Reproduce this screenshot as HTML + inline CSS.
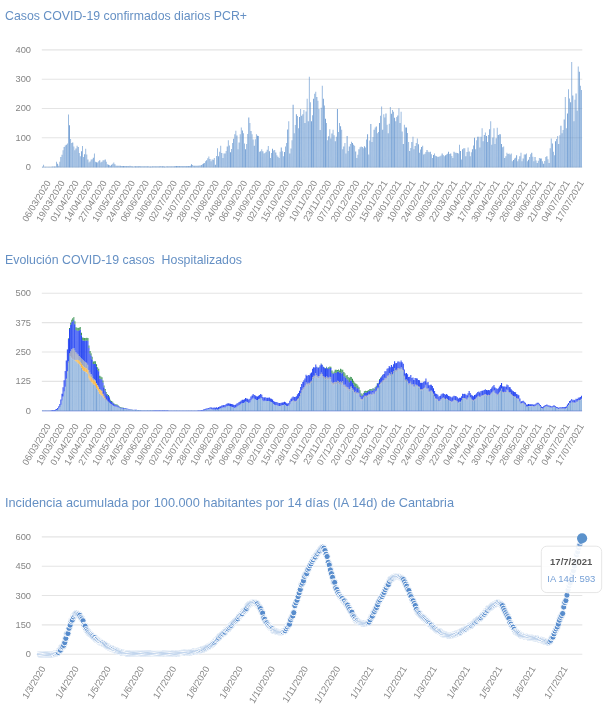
<!DOCTYPE html>
<html lang="es"><head><meta charset="utf-8"><title>COVID-19 Cantabria</title>
<style>html,body{margin:0;padding:0;background:#fff;}body{width:610px;height:720px;overflow:hidden;font-family:"Liberation Sans",sans-serif;}svg{display:block;filter:blur(0.45px);}</style></head>
<body>
<svg width="610" height="720" viewBox="0 0 610 720" font-family="Liberation Sans, sans-serif">
<rect width="610" height="720" fill="#fff"/>
<text x="5" y="19.8" font-size="13.6" fill="#6590c4" textLength="242" lengthAdjust="spacingAndGlyphs" xml:space="preserve">Casos COVID-19 confirmados diarios PCR+</text>
<line x1="41.8" x2="582.3" y1="167" y2="167" stroke="#e4e4e4" stroke-width="1.1"/>
<text x="31" y="170" text-anchor="end" font-size="9.3" fill="#858585">0</text>
<line x1="41.8" x2="582.3" y1="137.73" y2="137.73" stroke="#e4e4e4" stroke-width="1.1"/>
<text x="31" y="140.73" text-anchor="end" font-size="9.3" fill="#858585">100</text>
<line x1="41.8" x2="582.3" y1="108.46" y2="108.46" stroke="#e4e4e4" stroke-width="1.1"/>
<text x="31" y="111.46" text-anchor="end" font-size="9.3" fill="#858585">200</text>
<line x1="41.8" x2="582.3" y1="79.19" y2="79.19" stroke="#e4e4e4" stroke-width="1.1"/>
<text x="31" y="82.19" text-anchor="end" font-size="9.3" fill="#858585">300</text>
<line x1="41.8" x2="582.3" y1="49.92" y2="49.92" stroke="#e4e4e4" stroke-width="1.1"/>
<text x="31" y="52.92" text-anchor="end" font-size="9.3" fill="#858585">400</text>
<path d="M43.19 167.5v-2.84h0.86v2.84zM44.27 167.5v-0.79h0.86v0.79zM46.43 167.5v-0.79h0.86v0.79zM47.51 167.5v-0.79h0.86v0.79zM49.67 167.5v-0.79h0.86v0.79zM50.75 167.5v-0.85h0.86v0.85zM52.91 167.5v-0.97h0.86v0.97zM55.07 167.5v-1.09h0.86v1.09zM56.15 167.5v-5.77h0.86v5.77zM58.31 167.5v-1.67h0.86v1.67zM59.39 167.5v-5.83h0.86v5.83zM61.55 167.5v-12.85h0.86v12.85zM62.63 167.5v-17.18h0.86v17.18zM64.79 167.5v-21.94h0.86v21.94zM66.95 167.5v-23.92h0.86v23.92zM68.03 167.5v-52.89h0.86v52.89zM70.19 167.5v-28.6h0.86v28.6zM71.27 167.5v-24.55h0.86v24.55zM73.43 167.5v-21.06h0.86v21.06zM74.51 167.5v-17.18h0.86v17.18zM76.67 167.5v-21.87h0.86v21.87zM78.83 167.5v-14.49h0.86v14.49zM79.91 167.5v-11.33h0.86v11.33zM82.07 167.5v-21.57h0.86v21.57zM83.15 167.5v-10.45h0.86v10.45zM85.31 167.5v-18.65h0.86v18.65zM86.39 167.5v-13.1h0.86v13.1zM88.55 167.5v-4.89h0.86v4.89zM90.71 167.5v-8.11h0.86v8.11zM91.79 167.5v-8.28h0.86v8.28zM93.95 167.5v-13.96h0.86v13.96zM95.03 167.5v-5.77h0.86v5.77zM97.19 167.5v-4.89h0.86v4.89zM98.27 167.5v-6.33h0.86v6.33zM100.43 167.5v-4.89h0.86v4.89zM102.59 167.5v-7.23h0.86v7.23zM103.67 167.5v-7.24h0.86v7.24zM105.83 167.5v-5.69h0.86v5.69zM106.91 167.5v-3.13h0.86v3.13zM109.07 167.5v-2.16h0.86v2.16zM110.15 167.5v-1.67h0.86v1.67zM112.31 167.5v-3.82h0.86v3.82zM113.39 167.5v-4.89h0.86v4.89zM115.55 167.5v-1.67h0.86v1.67zM117.71 167.5v-1.67h0.86v1.67zM118.79 167.5v-1.67h0.86v1.67zM120.95 167.5v-1.6h0.86v1.6zM122.03 167.5v-1.52h0.86v1.52zM124.19 167.5v-1.38h0.86v1.38zM125.27 167.5v-1.44h0.86v1.44zM127.43 167.5v-1.55h0.86v1.55zM129.59 167.5v-1.67h0.86v1.67zM130.67 167.5v-1.48h0.86v1.48zM132.83 167.5v-1.09h0.86v1.09zM133.91 167.5v-1.13h0.86v1.13zM136.07 167.5v-1.23h0.86v1.23zM137.15 167.5v-1.28h0.86v1.28zM139.31 167.5v-1.38h0.86v1.38zM141.47 167.5v-1.32h0.86v1.32zM142.55 167.5v-1.29h0.86v1.29zM144.71 167.5v-1.23h0.86v1.23zM145.79 167.5v-1.2h0.86v1.2zM147.95 167.5v-1.14h0.86v1.14zM149.03 167.5v-1.11h0.86v1.11zM151.19 167.5v-1.12h0.86v1.12zM153.35 167.5v-1.18h0.86v1.18zM154.43 167.5v-1.22h0.86v1.22zM156.59 167.5v-1.28h0.86v1.28zM157.67 167.5v-1.31h0.86v1.31zM159.83 167.5v-1.38h0.86v1.38zM160.91 167.5v-1.3h0.86v1.3zM163.07 167.5v-1.16h0.86v1.16zM165.23 167.5v-1.11h0.86v1.11zM166.31 167.5v-1.14h0.86v1.14zM168.47 167.5v-1.2h0.86v1.2zM169.55 167.5v-1.23h0.86v1.23zM171.71 167.5v-1.29h0.86v1.29zM172.79 167.5v-1.32h0.86v1.32zM174.95 167.5v-1.38h0.86v1.38zM177.11 167.5v-1.38h0.86v1.38zM178.19 167.5v-1.38h0.86v1.38zM180.35 167.5v-1.38h0.86v1.38zM181.43 167.5v-1.38h0.86v1.38zM183.59 167.5v-1.38h0.86v1.38zM184.67 167.5v-1.38h0.86v1.38zM186.83 167.5v-1.5h0.86v1.5zM188.99 167.5v-1.61h0.86v1.61zM190.07 167.5v-1.67h0.86v1.67zM192.23 167.5v-2.4h0.86v2.4zM193.31 167.5v-1.67h0.86v1.67zM195.47 167.5v-1.77h0.86v1.77zM196.55 167.5v-1.82h0.86v1.82zM198.71 167.5v-1.91h0.86v1.91zM199.79 167.5v-1.96h0.86v1.96zM201.95 167.5v-3.28h0.86v3.28zM204.11 167.5v-4.6h0.86v4.6zM205.19 167.5v-6.3h0.86v6.3zM207.35 167.5v-9.17h0.86v9.17zM208.43 167.5v-11.04h0.86v11.04zM210.59 167.5v-6.35h0.86v6.35zM211.67 167.5v-7.95h0.86v7.95zM213.83 167.5v-9.57h0.86v9.57zM215.99 167.5v-11.61h0.86v11.61zM217.07 167.5v-19.23h0.86v19.23zM219.23 167.5v-15.83h0.86v15.83zM220.31 167.5v-21.87h0.86v21.87zM222.47 167.5v-9.57h0.86v9.57zM223.55 167.5v-13.96h0.86v13.96zM225.71 167.5v-16.6h0.86v16.6zM227.87 167.5v-27.14h0.86v27.14zM228.95 167.5v-22.1h0.86v22.1zM231.11 167.5v-18.51h0.86v18.51zM232.19 167.5v-24.5h0.86v24.5zM234.35 167.5v-33.18h0.86v33.18zM235.43 167.5v-36.79h0.86v36.79zM237.59 167.5v-18.35h0.86v18.35zM239.75 167.5v-33.28h0.86v33.28zM240.83 167.5v-40.01h0.86v40.01zM242.99 167.5v-34.16h0.86v34.16zM244.07 167.5v-23.97h0.86v23.97zM246.23 167.5v-23.62h0.86v23.62zM247.31 167.5v-33.55h0.86v33.55zM249.47 167.5v-44.41h0.86v44.41zM251.63 167.5v-33.28h0.86v33.28zM252.71 167.5v-28.01h0.86v28.01zM254.87 167.5v-28.18h0.86v28.18zM255.95 167.5v-33.28h0.86v33.28zM258.11 167.5v-31.53h0.86v31.53zM259.19 167.5v-15.72h0.86v15.72zM261.35 167.5v-18.35h0.86v18.35zM263.51 167.5v-13.96h0.86v13.96zM264.59 167.5v-14.58h0.86v14.58zM266.75 167.5v-17.81h0.86v17.81zM267.83 167.5v-21.57h0.86v21.57zM269.99 167.5v-9.57h0.86v9.57zM271.07 167.5v-14.46h0.86v14.46zM273.23 167.5v-17.08h0.86v17.08zM274.31 167.5v-17.48h0.86v17.48zM276.47 167.5v-12.21h0.86v12.21zM278.63 167.5v-9.57h0.86v9.57zM279.71 167.5v-15.67h0.86v15.67zM281.87 167.5v-16.2h0.86v16.2zM282.95 167.5v-11.33h0.86v11.33zM285.11 167.5v-20.99h0.86v20.99zM286.19 167.5v-24.5h0.86v24.5zM288.35 167.5v-46.16h0.86v46.16zM290.51 167.5v-18.97h0.86v18.97zM291.59 167.5v-27.14h0.86v27.14zM293.75 167.5v-34.16h0.86v34.16zM294.83 167.5v-42.61h0.86v42.61zM296.99 167.5v-51.43h0.86v51.43zM298.07 167.5v-39.14h0.86v39.14zM300.23 167.5v-58.45h0.86v58.45zM302.39 167.5v-53.19h0.86v53.19zM303.47 167.5v-57.58h0.86v57.58zM305.63 167.5v-55.88h0.86v55.88zM306.71 167.5v-68.7h0.86v68.7zM308.87 167.5v-90.65h0.86v90.65zM309.95 167.5v-65.19h0.86v65.19zM312.11 167.5v-52.14h0.86v52.14zM314.27 167.5v-73.67h0.86v73.67zM315.35 167.5v-75.72h0.86v75.72zM317.51 167.5v-66.86h0.86v66.86zM318.59 167.5v-58.45h0.86v58.45zM320.75 167.5v-59.81h0.86v59.81zM321.83 167.5v-81.87h0.86v81.87zM323.99 167.5v-62.1h0.86v62.1zM326.15 167.5v-44.41h0.86v44.41zM327.23 167.5v-27.14h0.86v27.14zM329.39 167.5v-38.26h0.86v38.26zM330.47 167.5v-28.89h0.86v28.89zM332.63 167.5v-37.67h0.86v37.67zM333.71 167.5v-32.19h0.86v32.19zM335.87 167.5v-30.65h0.86v30.65zM338.03 167.5v-35.62h0.86v35.62zM339.11 167.5v-44.41h0.86v44.41zM341.27 167.5v-37.67h0.86v37.67zM342.35 167.5v-18.35h0.86v18.35zM344.51 167.5v-24.5h0.86v24.5zM345.59 167.5v-13.96h0.86v13.96zM347.75 167.5v-16.6h0.86v16.6zM349.91 167.5v-23.62h0.86v23.62zM350.99 167.5v-25.71h0.86v25.71zM353.15 167.5v-22.85h0.86v22.85zM354.23 167.5v-21.87h0.86v21.87zM356.39 167.5v-9.57h0.86v9.57zM357.47 167.5v-12.76h0.86v12.76zM359.63 167.5v-20.18h0.86v20.18zM360.71 167.5v-20.99h0.86v20.99zM362.87 167.5v-19.23h0.86v19.23zM365.03 167.5v-20.11h0.86v20.11zM366.11 167.5v-27.95h0.86v27.95zM368.27 167.5v-13.09h0.86v13.09zM369.35 167.5v-26.95h0.86v26.95zM371.51 167.5v-25.38h0.86v25.38zM372.59 167.5v-30.58h0.86v30.58zM374.75 167.5v-40.07h0.86v40.07zM376.91 167.5v-34.16h0.86v34.16zM377.99 167.5v-35.56h0.86v35.56zM380.15 167.5v-51.86h0.86v51.86zM381.23 167.5v-61.09h0.86v61.09zM383.39 167.5v-53.19h0.86v53.19zM384.47 167.5v-49.92h0.86v49.92zM386.63 167.5v-42.65h0.86v42.65zM388.79 167.5v-43.64h0.86v43.64zM389.87 167.5v-60.5h0.86v60.5zM392.03 167.5v-57.58h0.86v57.58zM393.11 167.5v-55.66h0.86v55.66zM395.27 167.5v-46.31h0.86v46.31zM396.35 167.5v-50.55h0.86v50.55zM398.51 167.5v-59.33h0.86v59.33zM400.67 167.5v-55.82h0.86v55.82zM401.75 167.5v-35.92h0.86v35.92zM403.91 167.5v-42.65h0.86v42.65zM404.99 167.5v-40.12h0.86v40.12zM407.15 167.5v-34.53h0.86v34.53zM408.23 167.5v-25.38h0.86v25.38zM410.39 167.5v-19.5h0.86v19.5zM412.55 167.5v-30.65h0.86v30.65zM413.63 167.5v-18.35h0.86v18.35zM415.79 167.5v-24.5h0.86v24.5zM416.87 167.5v-28.89h0.86v28.89zM419.03 167.5v-14.84h0.86v14.84zM420.11 167.5v-17.98h0.86v17.98zM422.27 167.5v-21.87h0.86v21.87zM424.43 167.5v-13.85h0.86v13.85zM425.51 167.5v-15.62h0.86v15.62zM427.67 167.5v-15.72h0.86v15.72zM428.75 167.5v-15.18h0.86v15.18zM430.91 167.5v-13.37h0.86v13.37zM431.99 167.5v-9.57h0.86v9.57zM434.15 167.5v-13.96h0.86v13.96zM435.23 167.5v-11.76h0.86v11.76zM437.39 167.5v-10.59h0.86v10.59zM439.55 167.5v-11.33h0.86v11.33zM440.63 167.5v-11.94h0.86v11.94zM442.79 167.5v-12.49h0.86v12.49zM443.87 167.5v-11.33h0.86v11.33zM446.03 167.5v-13.09h0.86v13.09zM447.11 167.5v-13.67h0.86v13.67zM449.27 167.5v-13.42h0.86v13.42zM451.43 167.5v-11.49h0.86v11.49zM452.51 167.5v-9.57h0.86v9.57zM454.67 167.5v-14.79h0.86v14.79zM455.75 167.5v-14.84h0.86v14.84zM457.91 167.5v-13.96h0.86v13.96zM458.99 167.5v-22.75h0.86v22.75zM461.15 167.5v-8.11h0.86v8.11zM463.31 167.5v-19.24h0.86v19.24zM464.39 167.5v-19.23h0.86v19.23zM466.55 167.5v-15.61h0.86v15.61zM467.63 167.5v-20.11h0.86v20.11zM469.79 167.5v-11.33h0.86v11.33zM470.87 167.5v-15.15h0.86v15.15zM473.03 167.5v-21.94h0.86v21.94zM475.19 167.5v-18.35h0.86v18.35zM476.27 167.5v-27.14h0.86v27.14zM478.43 167.5v-30.65h0.86v30.65zM479.51 167.5v-20.11h0.86v20.11zM481.67 167.5v-39.14h0.86v39.14zM482.75 167.5v-26.26h0.86v26.26zM484.91 167.5v-35.04h0.86v35.04zM487.07 167.5v-25.38h0.86v25.38zM488.15 167.5v-32.4h0.86v32.4zM490.31 167.5v-46.16h0.86v46.16zM491.39 167.5v-22.75h0.86v22.75zM493.55 167.5v-39.14h0.86v39.14zM494.63 167.5v-23.62h0.86v23.62zM496.79 167.5v-39.72h0.86v39.72zM498.95 167.5v-33.3h0.86v33.3zM500.03 167.5v-33.28h0.86v33.28zM502.19 167.5v-20.37h0.86v20.37zM503.27 167.5v-20.99h0.86v20.99zM505.43 167.5v-11.18h0.86v11.18zM506.51 167.5v-14.84h0.86v14.84zM508.67 167.5v-13.96h0.86v13.96zM509.75 167.5v-13.01h0.86v13.01zM510.83 167.5v-13.96h0.86v13.96zM511.91 167.5v-6.35h0.86v6.35zM514.07 167.5v-8.99h0.86v8.99zM515.15 167.5v-9.68h0.86v9.68zM517.31 167.5v-6.35h0.86v6.35zM518.39 167.5v-8.32h0.86v8.32zM520.55 167.5v-14.84h0.86v14.84zM521.63 167.5v-6.35h0.86v6.35zM523.79 167.5v-13.09h0.86v13.09zM525.95 167.5v-13.96h0.86v13.96zM527.03 167.5v-6.35h0.86v6.35zM529.19 167.5v-10.45h0.86v10.45zM530.27 167.5v-13.34h0.86v13.34zM532.43 167.5v-10.7h0.86v10.7zM533.51 167.5v-6.35h0.86v6.35zM535.67 167.5v-7.01h0.86v7.01zM537.83 167.5v-6.73h0.86v6.73zM538.91 167.5v-9.57h0.86v9.57zM541.07 167.5v-8.99h0.86v8.99zM542.15 167.5v-6.15h0.86v6.15zM544.31 167.5v-6.57h0.86v6.57zM545.39 167.5v-10.45h0.86v10.45zM547.55 167.5v-8.36h0.86v8.36zM549.71 167.5v-19.23h0.86v19.23zM550.79 167.5v-28.89h0.86v28.89zM552.95 167.5v-15.72h0.86v15.72zM554.03 167.5v-12.21h0.86v12.21zM556.19 167.5v-28.43h0.86v28.43zM557.27 167.5v-31.53h0.86v31.53zM559.43 167.5v-32.28h0.86v32.28zM561.59 167.5v-34.16h0.86v34.16zM562.67 167.5v-37.61h0.86v37.61zM564.83 167.5v-70.46h0.86v70.46zM565.91 167.5v-39.14h0.86v39.14zM568.07 167.5v-78.36h0.86v78.36zM569.15 167.5v-69.04h0.86v69.04zM571.31 167.5v-105.58h0.86v105.58zM573.47 167.5v-46.16h0.86v46.16zM574.55 167.5v-67.82h0.86v67.82zM576.71 167.5v-56.7h0.86v56.7zM577.79 167.5v-100.9h0.86v100.9zM579.95 167.5v-81.87h0.86v81.87zM581.03 167.5v-77.48h0.86v77.48z" fill="#5b8fcc" fill-opacity="0.71"/>
<path d="M42.11 167.5v-0.73h0.86v0.73zM45.35 167.5v-0.79h0.86v0.79zM48.59 167.5v-0.79h0.86v0.79zM51.83 167.5v-0.91h0.86v0.91zM53.99 167.5v-1.03h0.86v1.03zM57.23 167.5v-3.72h0.86v3.72zM60.47 167.5v-10.45h0.86v10.45zM63.71 167.5v-20.4h0.86v20.4zM65.87 167.5v-22.75h0.86v22.75zM69.11 167.5v-42.36h0.86v42.36zM72.35 167.5v-25.09h0.86v25.09zM75.59 167.5v-18.88h0.86v18.88zM77.75 167.5v-20.4h0.86v20.4zM80.99 167.5v-16.31h0.86v16.31zM84.23 167.5v-13.24h0.86v13.24zM87.47 167.5v-8.11h0.86v8.11zM89.63 167.5v-5.98h0.86v5.98zM92.87 167.5v-9.87h0.86v9.87zM96.11 167.5v-5.22h0.86v5.22zM99.35 167.5v-7.23h0.86v7.23zM101.51 167.5v-5.63h0.86v5.63zM104.75 167.5v-8.11h0.86v8.11zM107.99 167.5v-2.65h0.86v2.65zM111.23 167.5v-2.74h0.86v2.74zM114.47 167.5v-3.28h0.86v3.28zM116.63 167.5v-1.67h0.86v1.67zM119.87 167.5v-1.67h0.86v1.67zM123.11 167.5v-1.45h0.86v1.45zM126.35 167.5v-1.5h0.86v1.5zM128.51 167.5v-1.61h0.86v1.61zM131.75 167.5v-1.28h0.86v1.28zM134.99 167.5v-1.18h0.86v1.18zM138.23 167.5v-1.33h0.86v1.33zM140.39 167.5v-1.35h0.86v1.35zM143.63 167.5v-1.26h0.86v1.26zM146.87 167.5v-1.17h0.86v1.17zM150.11 167.5v-1.09h0.86v1.09zM152.27 167.5v-1.15h0.86v1.15zM155.51 167.5v-1.25h0.86v1.25zM158.75 167.5v-1.35h0.86v1.35zM161.99 167.5v-1.23h0.86v1.23zM164.15 167.5v-1.09h0.86v1.09zM167.39 167.5v-1.17h0.86v1.17zM170.63 167.5v-1.26h0.86v1.26zM173.87 167.5v-1.35h0.86v1.35zM176.03 167.5v-1.38h0.86v1.38zM179.27 167.5v-1.38h0.86v1.38zM182.51 167.5v-1.38h0.86v1.38zM185.75 167.5v-1.44h0.86v1.44zM187.91 167.5v-1.55h0.86v1.55zM191.15 167.5v-3.13h0.86v3.13zM194.39 167.5v-1.72h0.86v1.72zM197.63 167.5v-1.87h0.86v1.87zM200.87 167.5v-2.62h0.86v2.62zM203.03 167.5v-3.94h0.86v3.94zM206.27 167.5v-7.23h0.86v7.23zM209.51 167.5v-8.46h0.86v8.46zM212.75 167.5v-7.77h0.86v7.77zM214.91 167.5v-2.84h0.86v2.84zM218.15 167.5v-11.33h0.86v11.33zM221.39 167.5v-14.59h0.86v14.59zM224.63 167.5v-14.12h0.86v14.12zM226.79 167.5v-20.92h0.86v20.92zM230.03 167.5v-15.14h0.86v15.14zM233.27 167.5v-28.73h0.86v28.73zM236.51 167.5v-32.11h0.86v32.11zM238.67 167.5v-24.98h0.86v24.98zM241.91 167.5v-37.04h0.86v37.04zM245.15 167.5v-18.35h0.86v18.35zM248.39 167.5v-49.97h0.86v49.97zM250.55 167.5v-36.43h0.86v36.43zM253.79 167.5v-21.87h0.86v21.87zM257.03 167.5v-31.67h0.86v31.67zM260.27 167.5v-16.32h0.86v16.32zM262.43 167.5v-16.24h0.86v16.24zM265.67 167.5v-15.72h0.86v15.72zM268.91 167.5v-16.22h0.86v16.22zM272.15 167.5v-18.65h0.86v18.65zM275.39 167.5v-14.89h0.86v14.89zM277.55 167.5v-10.83h0.86v10.83zM280.79 167.5v-20.11h0.86v20.11zM284.03 167.5v-15.41h0.86v15.41zM287.27 167.5v-37.99h0.86v37.99zM289.43 167.5v-13.96h0.86v13.96zM292.67 167.5v-62.85h0.86v62.85zM295.91 167.5v-53.19h0.86v53.19zM299.15 167.5v-50.55h0.86v50.55zM301.31 167.5v-51.8h0.86v51.8zM304.55 167.5v-44.41h0.86v44.41zM307.79 167.5v-46.16h0.86v46.16zM311.03 167.5v-46.16h0.86v46.16zM313.19 167.5v-68.7h0.86v68.7zM316.43 167.5v-70.46h0.86v70.46zM319.67 167.5v-37.38h0.86v37.38zM322.91 167.5v-68.7h0.86v68.7zM325.07 167.5v-48.8h0.86v48.8zM328.31 167.5v-31.3h0.86v31.3zM331.55 167.5v-34.11h0.86v34.11zM334.79 167.5v-26.26h0.86v26.26zM336.95 167.5v-58.45h0.86v58.45zM340.19 167.5v-41.22h0.86v41.22zM343.43 167.5v-21.05h0.86v21.05zM346.67 167.5v-31.53h0.86v31.53zM348.83 167.5v-21.11h0.86v21.11zM352.07 167.5v-24.5h0.86v24.5zM355.31 167.5v-16.02h0.86v16.02zM358.55 167.5v-18.35h0.86v18.35zM361.79 167.5v-20.43h0.86v20.43zM363.95 167.5v-21.18h0.86v21.18zM367.19 167.5v-33.28h0.86v33.28zM370.43 167.5v-43.53h0.86v43.53zM373.67 167.5v-37.67h0.86v37.67zM375.83 167.5v-40.89h0.86v40.89zM379.07 167.5v-44.41h0.86v44.41zM382.31 167.5v-37.67h0.86v37.67zM385.55 167.5v-54.06h0.86v54.06zM387.71 167.5v-34.16h0.86v34.16zM390.95 167.5v-53.81h0.86v53.81zM394.19 167.5v-49.67h0.86v49.67zM397.43 167.5v-51.92h0.86v51.92zM399.59 167.5v-44.41h0.86v44.41zM402.83 167.5v-23.62h0.86v23.62zM406.07 167.5v-40.01h0.86v40.01zM409.31 167.5v-16.6h0.86v16.6zM411.47 167.5v-25.48h0.86v25.48zM414.71 167.5v-21.41h0.86v21.41zM417.95 167.5v-23.13h0.86v23.13zM421.19 167.5v-20.58h0.86v20.58zM423.35 167.5v-13.09h0.86v13.09zM426.59 167.5v-17.48h0.86v17.48zM429.83 167.5v-15.72h0.86v15.72zM433.07 167.5v-12.58h0.86v12.58zM436.31 167.5v-11.33h0.86v11.33zM438.47 167.5v-10.7h0.86v10.7zM441.71 167.5v-13.96h0.86v13.96zM444.95 167.5v-12.28h0.86v12.28zM448.19 167.5v-15.72h0.86v15.72zM450.35 167.5v-13.96h0.86v13.96zM453.59 167.5v-15.72h0.86v15.72zM456.83 167.5v-14.43h0.86v14.43zM460.07 167.5v-16.5h0.86v16.5zM462.23 167.5v-18.35h0.86v18.35zM465.47 167.5v-11.33h0.86v11.33zM468.71 167.5v-15.89h0.86v15.89zM471.95 167.5v-18.35h0.86v18.35zM474.11 167.5v-29.77h0.86v29.77zM477.35 167.5v-30.65h0.86v30.65zM480.59 167.5v-30.8h0.86v30.8zM483.83 167.5v-32.38h0.86v32.38zM485.99 167.5v-31.5h0.86v31.5zM489.23 167.5v-38.14h0.86v38.14zM492.47 167.5v-30.08h0.86v30.08zM495.71 167.5v-29.14h0.86v29.14zM497.87 167.5v-32.4h0.86v32.4zM501.11 167.5v-23.62h0.86v23.62zM504.35 167.5v-9.57h0.86v9.57zM507.59 167.5v-13.54h0.86v13.54zM512.99 167.5v-7.39h0.86v7.39zM516.23 167.5v-12.21h0.86v12.21zM519.47 167.5v-11.18h0.86v11.18zM522.71 167.5v-8.97h0.86v8.97zM524.87 167.5v-13.08h0.86v13.08zM528.11 167.5v-7.65h0.86v7.65zM531.35 167.5v-14.84h0.86v14.84zM534.59 167.5v-10.45h0.86v10.45zM536.75 167.5v-4.6h0.86v4.6zM539.99 167.5v-8.95h0.86v8.95zM543.23 167.5v-3.72h0.86v3.72zM546.47 167.5v-11.33h0.86v11.33zM548.63 167.5v-4.6h0.86v4.6zM551.87 167.5v-24.02h0.86v24.02zM555.11 167.5v-26.26h0.86v26.26zM558.35 167.5v-23.62h0.86v23.62zM560.51 167.5v-41.77h0.86v41.77zM563.75 167.5v-47.92h0.86v47.92zM566.99 167.5v-53.99h0.86v53.99zM570.23 167.5v-65.19h0.86v65.19zM572.39 167.5v-71.93h0.86v71.93zM575.63 167.5v-73.97h0.86v73.97zM578.87 167.5v-95.85h0.86v95.85z" fill="#5b8fcc" fill-opacity="0.93"/>
<text transform="translate(48.3,181) rotate(-59)" text-anchor="end" font-size="9.3" fill="#858585" dy="3.3">06/03/2020</text>
<text transform="translate(62.33,181) rotate(-59)" text-anchor="end" font-size="9.3" fill="#858585" dy="3.3">19/03/2020</text>
<text transform="translate(76.36,181) rotate(-59)" text-anchor="end" font-size="9.3" fill="#858585" dy="3.3">01/04/2020</text>
<text transform="translate(90.39,181) rotate(-59)" text-anchor="end" font-size="9.3" fill="#858585" dy="3.3">14/04/2020</text>
<text transform="translate(104.42,181) rotate(-59)" text-anchor="end" font-size="9.3" fill="#858585" dy="3.3">27/04/2020</text>
<text transform="translate(118.45,181) rotate(-59)" text-anchor="end" font-size="9.3" fill="#858585" dy="3.3">10/05/2020</text>
<text transform="translate(132.48,181) rotate(-59)" text-anchor="end" font-size="9.3" fill="#858585" dy="3.3">24/05/2020</text>
<text transform="translate(146.51,181) rotate(-59)" text-anchor="end" font-size="9.3" fill="#858585" dy="3.3">06/06/2020</text>
<text transform="translate(160.54,181) rotate(-59)" text-anchor="end" font-size="9.3" fill="#858585" dy="3.3">19/06/2020</text>
<text transform="translate(174.57,181) rotate(-59)" text-anchor="end" font-size="9.3" fill="#858585" dy="3.3">02/07/2020</text>
<text transform="translate(188.6,181) rotate(-59)" text-anchor="end" font-size="9.3" fill="#858585" dy="3.3">15/07/2020</text>
<text transform="translate(202.63,181) rotate(-59)" text-anchor="end" font-size="9.3" fill="#858585" dy="3.3">28/07/2020</text>
<text transform="translate(216.66,181) rotate(-59)" text-anchor="end" font-size="9.3" fill="#858585" dy="3.3">10/08/2020</text>
<text transform="translate(230.69,181) rotate(-59)" text-anchor="end" font-size="9.3" fill="#858585" dy="3.3">24/08/2020</text>
<text transform="translate(244.72,181) rotate(-59)" text-anchor="end" font-size="9.3" fill="#858585" dy="3.3">06/09/2020</text>
<text transform="translate(258.75,181) rotate(-59)" text-anchor="end" font-size="9.3" fill="#858585" dy="3.3">19/09/2020</text>
<text transform="translate(272.78,181) rotate(-59)" text-anchor="end" font-size="9.3" fill="#858585" dy="3.3">02/10/2020</text>
<text transform="translate(286.81,181) rotate(-59)" text-anchor="end" font-size="9.3" fill="#858585" dy="3.3">15/10/2020</text>
<text transform="translate(300.84,181) rotate(-59)" text-anchor="end" font-size="9.3" fill="#858585" dy="3.3">28/10/2020</text>
<text transform="translate(314.87,181) rotate(-59)" text-anchor="end" font-size="9.3" fill="#858585" dy="3.3">10/11/2020</text>
<text transform="translate(328.9,181) rotate(-59)" text-anchor="end" font-size="9.3" fill="#858585" dy="3.3">23/11/2020</text>
<text transform="translate(342.93,181) rotate(-59)" text-anchor="end" font-size="9.3" fill="#858585" dy="3.3">07/12/2020</text>
<text transform="translate(356.96,181) rotate(-59)" text-anchor="end" font-size="9.3" fill="#858585" dy="3.3">20/12/2020</text>
<text transform="translate(370.99,181) rotate(-59)" text-anchor="end" font-size="9.3" fill="#858585" dy="3.3">02/01/2021</text>
<text transform="translate(385.02,181) rotate(-59)" text-anchor="end" font-size="9.3" fill="#858585" dy="3.3">15/01/2021</text>
<text transform="translate(399.05,181) rotate(-59)" text-anchor="end" font-size="9.3" fill="#858585" dy="3.3">28/01/2021</text>
<text transform="translate(413.08,181) rotate(-59)" text-anchor="end" font-size="9.3" fill="#858585" dy="3.3">10/02/2021</text>
<text transform="translate(427.11,181) rotate(-59)" text-anchor="end" font-size="9.3" fill="#858585" dy="3.3">24/02/2021</text>
<text transform="translate(441.14,181) rotate(-59)" text-anchor="end" font-size="9.3" fill="#858585" dy="3.3">09/03/2021</text>
<text transform="translate(455.17,181) rotate(-59)" text-anchor="end" font-size="9.3" fill="#858585" dy="3.3">22/03/2021</text>
<text transform="translate(469.2,181) rotate(-59)" text-anchor="end" font-size="9.3" fill="#858585" dy="3.3">04/04/2021</text>
<text transform="translate(483.23,181) rotate(-59)" text-anchor="end" font-size="9.3" fill="#858585" dy="3.3">17/04/2021</text>
<text transform="translate(497.26,181) rotate(-59)" text-anchor="end" font-size="9.3" fill="#858585" dy="3.3">30/04/2021</text>
<text transform="translate(511.29,181) rotate(-59)" text-anchor="end" font-size="9.3" fill="#858585" dy="3.3">13/05/2021</text>
<text transform="translate(525.32,181) rotate(-59)" text-anchor="end" font-size="9.3" fill="#858585" dy="3.3">26/05/2021</text>
<text transform="translate(539.35,181) rotate(-59)" text-anchor="end" font-size="9.3" fill="#858585" dy="3.3">08/06/2021</text>
<text transform="translate(553.38,181) rotate(-59)" text-anchor="end" font-size="9.3" fill="#858585" dy="3.3">21/06/2021</text>
<text transform="translate(567.41,181) rotate(-59)" text-anchor="end" font-size="9.3" fill="#858585" dy="3.3">04/07/2021</text>
<text transform="translate(581.44,181) rotate(-59)" text-anchor="end" font-size="9.3" fill="#858585" dy="3.3">17/07/2021</text>
<text x="5" y="263.6" font-size="13.6" fill="#6590c4" textLength="237" lengthAdjust="spacingAndGlyphs" xml:space="preserve">Evolución COVID-19 casos  Hospitalizados</text>
<line x1="41.8" x2="582.3" y1="410.8" y2="410.8" stroke="#e4e4e4" stroke-width="1.1"/>
<text x="31" y="413.8" text-anchor="end" font-size="9.3" fill="#858585">0</text>
<line x1="41.8" x2="582.3" y1="381.4" y2="381.4" stroke="#e4e4e4" stroke-width="1.1"/>
<text x="31" y="384.4" text-anchor="end" font-size="9.3" fill="#858585">125</text>
<line x1="41.8" x2="582.3" y1="352" y2="352" stroke="#e4e4e4" stroke-width="1.1"/>
<text x="31" y="355" text-anchor="end" font-size="9.3" fill="#858585">250</text>
<line x1="41.8" x2="582.3" y1="322.6" y2="322.6" stroke="#e4e4e4" stroke-width="1.1"/>
<text x="31" y="325.6" text-anchor="end" font-size="9.3" fill="#858585">375</text>
<line x1="41.8" x2="582.3" y1="293.2" y2="293.2" stroke="#e4e4e4" stroke-width="1.1"/>
<text x="31" y="296.2" text-anchor="end" font-size="9.3" fill="#858585">500</text>
<line x1="42" x2="582" y1="410.95" y2="410.95" stroke="#4056ea" stroke-opacity="0.5" stroke-width="0.9"/>
<path d="M43.19 410.9v-0.29h0.86v0.29zM44.27 410.9v-0.29h0.86v0.29zM46.43 410.9v-0.29h0.86v0.29zM47.51 410.9v-0.29h0.86v0.29zM49.67 410.9v-0.29h0.86v0.29zM50.75 410.9v-0.29h0.86v0.29zM52.91 410.9v-0.29h0.86v0.29zM55.07 410.9v-0.49h0.86v0.49zM56.15 410.9v-0.83h0.86v0.83zM58.31 410.9v-2.46h0.86v2.46zM59.39 410.9v-4.18h0.86v4.18zM61.55 410.9v-10.29h0.86v10.29zM62.63 410.9v-14.48h0.86v14.48zM64.79 410.9v-24.23h0.86v24.23zM66.95 410.9v-38.77h0.86v38.77zM68.03 410.9v-47.15h0.86v47.15zM70.19 410.9v-54.06h0.86v54.06zM71.27 410.9v-52.68h0.86v52.68zM73.43 410.9v-51.22h0.86v51.22zM74.51 410.9v-50.7h0.86v50.7zM76.67 410.9v-48.67h0.86v48.67zM78.83 410.9v-46.69h0.86v46.69zM79.91 410.9v-45.3h0.86v45.3zM82.07 410.9v-41.21h0.86v41.21zM83.15 410.9v-40.01h0.86v40.01zM85.31 410.9v-39h0.86v39zM86.39 410.9v-38.37h0.86v38.37zM88.55 410.9v-32.6h0.86v32.6zM90.71 410.9v-29.26h0.86v29.26zM91.79 410.9v-28.14h0.86v28.14zM93.95 410.9v-26.26h0.86v26.26zM95.03 410.9v-24.96h0.86v24.96zM97.19 410.9v-21.04h0.86v21.04zM98.27 410.9v-19.45h0.86v19.45zM100.43 410.9v-16.24h0.86v16.24zM102.59 410.9v-14.39h0.86v14.39zM103.67 410.9v-12.98h0.86v12.98zM105.83 410.9v-10.74h0.86v10.74zM106.91 410.9v-9.79h0.86v9.79zM109.07 410.9v-8.02h0.86v8.02zM110.15 410.9v-6.91h0.86v6.91zM112.31 410.9v-5.59h0.86v5.59zM113.39 410.9v-4.94h0.86v4.94zM115.55 410.9v-4.33h0.86v4.33zM117.71 410.9v-3.74h0.86v3.74zM118.79 410.9v-3.13h0.86v3.13zM120.95 410.9v-2.49h0.86v2.49zM122.03 410.9v-2.34h0.86v2.34zM124.19 410.9v-2.04h0.86v2.04zM125.27 410.9v-1.88h0.86v1.88zM127.43 410.9v-1.58h0.86v1.58zM129.59 410.9v-1.27h0.86v1.27zM130.67 410.9v-1.19h0.86v1.19zM132.83 410.9v-1.03h0.86v1.03zM133.91 410.9v-1h0.86v1zM136.07 410.9v-0.92h0.86v0.92zM137.15 410.9v-0.89h0.86v0.89zM139.31 410.9v-0.81h0.86v0.81zM141.47 410.9v-0.76h0.86v0.76zM142.55 410.9v-0.74h0.86v0.74zM144.71 410.9v-0.68h0.86v0.68zM145.79 410.9v-0.66h0.86v0.66zM147.95 410.9v-0.61h0.86v0.61zM149.03 410.9v-0.58h0.86v0.58zM151.19 410.9v-0.54h0.86v0.54zM153.35 410.9v-0.51h0.86v0.51zM154.43 410.9v-0.49h0.86v0.49zM156.59 410.9v-0.46h0.86v0.46zM157.67 410.9v-0.44h0.86v0.44zM159.83 410.9v-0.41h0.86v0.41zM160.91 410.9v-0.39h0.86v0.39zM163.07 410.9v-0.36h0.86v0.36zM165.23 410.9v-0.34h0.86v0.34zM166.31 410.9v-0.34h0.86v0.34zM168.47 410.9v-0.34h0.86v0.34zM169.55 410.9v-0.34h0.86v0.34zM171.71 410.9v-0.34h0.86v0.34zM172.79 410.9v-0.34h0.86v0.34zM174.95 410.9v-0.34h0.86v0.34zM177.11 410.9v-0.34h0.86v0.34zM178.19 410.9v-0.34h0.86v0.34zM180.35 410.9v-0.34h0.86v0.34zM181.43 410.9v-0.34h0.86v0.34zM183.59 410.9v-0.34h0.86v0.34zM184.67 410.9v-0.34h0.86v0.34zM186.83 410.9v-0.34h0.86v0.34zM188.99 410.9v-0.34h0.86v0.34zM190.07 410.9v-0.34h0.86v0.34zM192.23 410.9v-0.34h0.86v0.34zM193.31 410.9v-0.34h0.86v0.34zM195.47 410.9v-0.34h0.86v0.34zM196.55 410.9v-0.34h0.86v0.34zM198.71 410.9v-0.29h0.86v0.29zM199.79 410.9v-0.29h0.86v0.29zM201.95 410.9v-0.29h0.86v0.29zM204.11 410.9v-0.67h0.86v0.67zM205.19 410.9v-1.14h0.86v1.14zM207.35 410.9v-1.44h0.86v1.44zM208.43 410.9v-1.71h0.86v1.71zM210.59 410.9v-2.11h0.86v2.11zM211.67 410.9v-1.42h0.86v1.42zM213.83 410.9v-1.48h0.86v1.48zM215.99 410.9v-1.61h0.86v1.61zM217.07 410.9v-1.24h0.86v1.24zM219.23 410.9v-2.23h0.86v2.23zM220.31 410.9v-2.62h0.86v2.62zM222.47 410.9v-3.39h0.86v3.39zM223.55 410.9v-3.62h0.86v3.62zM225.71 410.9v-4.44h0.86v4.44zM227.87 410.9v-5.03h0.86v5.03zM228.95 410.9v-4.94h0.86v4.94zM231.11 410.9v-4.15h0.86v4.15zM232.19 410.9v-3.82h0.86v3.82zM234.35 410.9v-2.99h0.86v2.99zM235.43 410.9v-3.54h0.86v3.54zM237.59 410.9v-5.06h0.86v5.06zM239.75 410.9v-6.36h0.86v6.36zM240.83 410.9v-7.38h0.86v7.38zM242.99 410.9v-7.92h0.86v7.92zM244.07 410.9v-8.43h0.86v8.43zM246.23 410.9v-9.15h0.86v9.15zM247.31 410.9v-8.85h0.86v8.85zM249.47 410.9v-8.75h0.86v8.75zM251.63 410.9v-11.86h0.86v11.86zM252.71 410.9v-13.21h0.86v13.21zM254.87 410.9v-11.76h0.86v11.76zM255.95 410.9v-10.81h0.86v10.81zM258.11 410.9v-11.56h0.86v11.56zM259.19 410.9v-12.17h0.86v12.17zM261.35 410.9v-12.66h0.86v12.66zM263.51 410.9v-9.68h0.86v9.68zM264.59 410.9v-10.51h0.86v10.51zM266.75 410.9v-9.85h0.86v9.85zM267.83 410.9v-9.82h0.86v9.82zM269.99 410.9v-9.15h0.86v9.15zM271.07 410.9v-8.98h0.86v8.98zM273.23 410.9v-6.84h0.86v6.84zM274.31 410.9v-5.94h0.86v5.94zM276.47 410.9v-5.8h0.86v5.8zM278.63 410.9v-4.89h0.86v4.89zM279.71 410.9v-4.93h0.86v4.93zM281.87 410.9v-5.64h0.86v5.64zM282.95 410.9v-5.95h0.86v5.95zM285.11 410.9v-5.9h0.86v5.9zM286.19 410.9v-4.89h0.86v4.89zM288.35 410.9v-5.15h0.86v5.15zM290.51 410.9v-8.58h0.86v8.58zM291.59 410.9v-9.28h0.86v9.28zM293.75 410.9v-9.17h0.86v9.17zM294.83 410.9v-8.64h0.86v8.64zM296.99 410.9v-10.59h0.86v10.59zM298.07 410.9v-11.5h0.86v11.5zM300.23 410.9v-16.34h0.86v16.34zM302.39 410.9v-20.59h0.86v20.59zM303.47 410.9v-21.84h0.86v21.84zM305.63 410.9v-26.76h0.86v26.76zM306.71 410.9v-25.2h0.86v25.2zM308.87 410.9v-25.48h0.86v25.48zM309.95 410.9v-27.09h0.86v27.09zM312.11 410.9v-31.58h0.86v31.58zM314.27 410.9v-32.96h0.86v32.96zM315.35 410.9v-35.82h0.86v35.82zM317.51 410.9v-32.28h0.86v32.28zM318.59 410.9v-32.84h0.86v32.84zM320.75 410.9v-36.28h0.86v36.28zM321.83 410.9v-34.89h0.86v34.89zM323.99 410.9v-32.1h0.86v32.1zM326.15 410.9v-32.53h0.86v32.53zM327.23 410.9v-31.18h0.86v31.18zM329.39 410.9v-31.88h0.86v31.88zM330.47 410.9v-31.49h0.86v31.49zM332.63 410.9v-25.49h0.86v25.49zM333.71 410.9v-26.64h0.86v26.64zM335.87 410.9v-26.64h0.86v26.64zM338.03 410.9v-27.34h0.86v27.34zM339.11 410.9v-26.12h0.86v26.12zM341.27 410.9v-25.98h0.86v25.98zM342.35 410.9v-27.4h0.86v27.4zM344.51 410.9v-23.97h0.86v23.97zM345.59 410.9v-22.65h0.86v22.65zM347.75 410.9v-21.15h0.86v21.15zM349.91 410.9v-21.94h0.86v21.94zM350.99 410.9v-22.32h0.86v22.32zM353.15 410.9v-19.22h0.86v19.22zM354.23 410.9v-17.14h0.86v17.14zM356.39 410.9v-16.53h0.86v16.53zM357.47 410.9v-17.08h0.86v17.08zM359.63 410.9v-12.62h0.86v12.62zM360.71 410.9v-10.43h0.86v10.43zM362.87 410.9v-12.12h0.86v12.12zM365.03 410.9v-14.09h0.86v14.09zM366.11 410.9v-13.86h0.86v13.86zM368.27 410.9v-15.35h0.86v15.35zM369.35 410.9v-15.54h0.86v15.54zM371.51 410.9v-15.32h0.86v15.32zM372.59 410.9v-17.41h0.86v17.41zM374.75 410.9v-18.31h0.86v18.31zM376.91 410.9v-21.95h0.86v21.95zM377.99 410.9v-21.89h0.86v21.89zM380.15 410.9v-26.63h0.86v26.63zM381.23 410.9v-27.64h0.86v27.64zM383.39 410.9v-29.13h0.86v29.13zM384.47 410.9v-31.42h0.86v31.42zM386.63 410.9v-33.22h0.86v33.22zM388.79 410.9v-36.07h0.86v36.07zM389.87 410.9v-34.64h0.86v34.64zM392.03 410.9v-35.13h0.86v35.13zM393.11 410.9v-37.87h0.86v37.87zM395.27 410.9v-38.85h0.86v38.85zM396.35 410.9v-39.28h0.86v39.28zM398.51 410.9v-41.05h0.86v41.05zM400.67 410.9v-42.05h0.86v42.05zM401.75 410.9v-40.47h0.86v40.47zM403.91 410.9v-33.42h0.86v33.42zM404.99 410.9v-29.51h0.86v29.51zM407.15 410.9v-28.76h0.86v28.76zM408.23 410.9v-25.99h0.86v25.99zM410.39 410.9v-27.92h0.86v27.92zM412.55 410.9v-25.46h0.86v25.46zM413.63 410.9v-23.04h0.86v23.04zM415.79 410.9v-24.96h0.86v24.96zM416.87 410.9v-24.71h0.86v24.71zM419.03 410.9v-23.07h0.86v23.07zM420.11 410.9v-20.61h0.86v20.61zM422.27 410.9v-20.77h0.86v20.77zM424.43 410.9v-22.29h0.86v22.29zM425.51 410.9v-24.92h0.86v24.92zM427.67 410.9v-21.57h0.86v21.57zM428.75 410.9v-18.23h0.86v18.23zM430.91 410.9v-19.28h0.86v19.28zM431.99 410.9v-18.13h0.86v18.13zM434.15 410.9v-13.75h0.86v13.75zM435.23 410.9v-11.43h0.86v11.43zM437.39 410.9v-10.63h0.86v10.63zM439.55 410.9v-9.46h0.86v9.46zM440.63 410.9v-10.94h0.86v10.94zM442.79 410.9v-12.49h0.86v12.49zM443.87 410.9v-11.7h0.86v11.7zM446.03 410.9v-11.75h0.86v11.75zM447.11 410.9v-11.04h0.86v11.04zM449.27 410.9v-9.54h0.86v9.54zM451.43 410.9v-8.41h0.86v8.41zM452.51 410.9v-9.4h0.86v9.4zM454.67 410.9v-10.06h0.86v10.06zM455.75 410.9v-9.75h0.86v9.75zM457.91 410.9v-7.74h0.86v7.74zM458.99 410.9v-8.35h0.86v8.35zM461.15 410.9v-9.95h0.86v9.95zM463.31 410.9v-12.18h0.86v12.18zM464.39 410.9v-12.22h0.86v12.22zM466.55 410.9v-10.62h0.86v10.62zM467.63 410.9v-12.65h0.86v12.65zM469.79 410.9v-12.81h0.86v12.81zM470.87 410.9v-11.16h0.86v11.16zM473.03 410.9v-9.62h0.86v9.62zM475.19 410.9v-11.12h0.86v11.12zM476.27 410.9v-12.48h0.86v12.48zM478.43 410.9v-14.12h0.86v14.12zM479.51 410.9v-13.08h0.86v13.08zM481.67 410.9v-14.65h0.86v14.65zM482.75 410.9v-14.91h0.86v14.91zM484.91 410.9v-16.08h0.86v16.08zM487.07 410.9v-14.79h0.86v14.79zM488.15 410.9v-15.17h0.86v15.17zM490.31 410.9v-16.07h0.86v16.07zM491.39 410.9v-17.35h0.86v17.35zM493.55 410.9v-19.72h0.86v19.72zM494.63 410.9v-17.14h0.86v17.14zM496.79 410.9v-15.27h0.86v15.27zM498.95 410.9v-17.6h0.86v17.6zM500.03 410.9v-19.08h0.86v19.08zM502.19 410.9v-18.11h0.86v18.11zM503.27 410.9v-17.82h0.86v17.82zM505.43 410.9v-17.97h0.86v17.97zM506.51 410.9v-20.28h0.86v20.28zM508.67 410.9v-17.91h0.86v17.91zM509.75 410.9v-17.79h0.86v17.79zM510.83 410.9v-15.89h0.86v15.89zM511.91 410.9v-14.88h0.86v14.88zM514.07 410.9v-13.55h0.86v13.55zM515.15 410.9v-13.37h0.86v13.37zM517.31 410.9v-11.38h0.86v11.38zM518.39 410.9v-11.29h0.86v11.29zM520.55 410.9v-6.82h0.86v6.82zM521.63 410.9v-7.45h0.86v7.45zM523.79 410.9v-6.76h0.86v6.76zM525.95 410.9v-4.15h0.86v4.15zM527.03 410.9v-4.06h0.86v4.06zM529.19 410.9v-4.57h0.86v4.57zM530.27 410.9v-4.54h0.86v4.54zM532.43 410.9v-4.56h0.86v4.56zM533.51 410.9v-4.16h0.86v4.16zM535.67 410.9v-5.38h0.86v5.38zM537.83 410.9v-6.41h0.86v6.41zM538.91 410.9v-5.25h0.86v5.25zM541.07 410.9v-2.69h0.86v2.69zM542.15 410.9v-2.27h0.86v2.27zM544.31 410.9v-3.73h0.86v3.73zM545.39 410.9v-4.31h0.86v4.31zM547.55 410.9v-3.98h0.86v3.98zM549.71 410.9v-3.54h0.86v3.54zM550.79 410.9v-3.14h0.86v3.14zM552.95 410.9v-3.86h0.86v3.86zM554.03 410.9v-3.98h0.86v3.98zM556.19 410.9v-2.49h0.86v2.49zM557.27 410.9v-2.28h0.86v2.28zM559.43 410.9v-2.32h0.86v2.32zM561.59 410.9v-2.17h0.86v2.17zM562.67 410.9v-2.14h0.86v2.14zM564.83 410.9v-2.02h0.86v2.02zM565.91 410.9v-2.75h0.86v2.75zM568.07 410.9v-5.63h0.86v5.63zM569.15 410.9v-7.56h0.86v7.56zM571.31 410.9v-9.35h0.86v9.35zM573.47 410.9v-8.13h0.86v8.13zM574.55 410.9v-7.62h0.86v7.62zM576.71 410.9v-8.71h0.86v8.71zM577.79 410.9v-10.08h0.86v10.08zM579.95 410.9v-10.68h0.86v10.68zM581.03 410.9v-11.77h0.86v11.77z" fill="#5b8fcc" fill-opacity="0.71"/>
<path d="M42.11 410.9v-0.29h0.86v0.29zM45.35 410.9v-0.29h0.86v0.29zM48.59 410.9v-0.29h0.86v0.29zM51.83 410.9v-0.29h0.86v0.29zM53.99 410.9v-0.29h0.86v0.29zM57.23 410.9v-1.17h0.86v1.17zM60.47 410.9v-6.13h0.86v6.13zM63.71 410.9v-19.33h0.86v19.33zM65.87 410.9v-31.5h0.86v31.5zM69.11 410.9v-54.95h0.86v54.95zM72.35 410.9v-51.73h0.86v51.73zM75.59 410.9v-49.7h0.86v49.7zM77.75 410.9v-47.75h0.86v47.75zM80.99 410.9v-43.09h0.86v43.09zM84.23 410.9v-39.53h0.86v39.53zM87.47 410.9v-36.88h0.86v36.88zM89.63 410.9v-30.57h0.86v30.57zM92.87 410.9v-26.77h0.86v26.77zM96.11 410.9v-22.58h0.86v22.58zM99.35 410.9v-17.08h0.86v17.08zM101.51 410.9v-15.43h0.86v15.43zM104.75 410.9v-11.8h0.86v11.8zM107.99 410.9v-8.94h0.86v8.94zM111.23 410.9v-6.2h0.86v6.2zM114.47 410.9v-4.49h0.86v4.49zM116.63 410.9v-4.17h0.86v4.17zM119.87 410.9v-2.64h0.86v2.64zM123.11 410.9v-2.19h0.86v2.19zM126.35 410.9v-1.73h0.86v1.73zM128.51 410.9v-1.43h0.86v1.43zM131.75 410.9v-1.11h0.86v1.11zM134.99 410.9v-0.96h0.86v0.96zM138.23 410.9v-0.85h0.86v0.85zM140.39 410.9v-0.79h0.86v0.79zM143.63 410.9v-0.71h0.86v0.71zM146.87 410.9v-0.63h0.86v0.63zM150.11 410.9v-0.56h0.86v0.56zM152.27 410.9v-0.53h0.86v0.53zM155.51 410.9v-0.48h0.86v0.48zM158.75 410.9v-0.43h0.86v0.43zM161.99 410.9v-0.38h0.86v0.38zM164.15 410.9v-0.34h0.86v0.34zM167.39 410.9v-0.34h0.86v0.34zM170.63 410.9v-0.34h0.86v0.34zM173.87 410.9v-0.34h0.86v0.34zM176.03 410.9v-0.34h0.86v0.34zM179.27 410.9v-0.34h0.86v0.34zM182.51 410.9v-0.34h0.86v0.34zM185.75 410.9v-0.34h0.86v0.34zM187.91 410.9v-0.34h0.86v0.34zM191.15 410.9v-0.34h0.86v0.34zM194.39 410.9v-0.34h0.86v0.34zM197.63 410.9v-0.29h0.86v0.29zM200.87 410.9v-0.29h0.86v0.29zM203.03 410.9v-0.53h0.86v0.53zM206.27 410.9v-1.34h0.86v1.34zM209.51 410.9v-2.05h0.86v2.05zM212.75 410.9v-1.45h0.86v1.45zM214.91 410.9v-1.25h0.86v1.25zM218.15 410.9v-1.95h0.86v1.95zM221.39 410.9v-3.12h0.86v3.12zM224.63 410.9v-3.5h0.86v3.5zM226.79 410.9v-4.98h0.86v4.98zM230.03 410.9v-4.48h0.86v4.48zM233.27 410.9v-3.39h0.86v3.39zM236.51 410.9v-4.47h0.86v4.47zM238.67 410.9v-5.88h0.86v5.88zM241.91 410.9v-7.91h0.86v7.91zM245.15 410.9v-9.48h0.86v9.48zM248.39 410.9v-7.88h0.86v7.88zM250.55 410.9v-10.74h0.86v10.74zM253.79 410.9v-12.18h0.86v12.18zM257.03 410.9v-10.74h0.86v10.74zM260.27 410.9v-13.21h0.86v13.21zM262.43 410.9v-10.43h0.86v10.43zM265.67 410.9v-9.8h0.86v9.8zM268.91 410.9v-9.97h0.86v9.97zM272.15 410.9v-8.14h0.86v8.14zM275.39 410.9v-5.77h0.86v5.77zM277.55 410.9v-5.21h0.86v5.21zM280.79 410.9v-5.32h0.86v5.32zM284.03 410.9v-6.5h0.86v6.5zM287.27 410.9v-4.78h0.86v4.78zM289.43 410.9v-6.89h0.86v6.89zM292.67 410.9v-10.07h0.86v10.07zM295.91 410.9v-9.07h0.86v9.07zM299.15 410.9v-13.09h0.86v13.09zM301.31 410.9v-18.94h0.86v18.94zM304.55 410.9v-23.49h0.86v23.49zM307.79 410.9v-26.06h0.86v26.06zM311.03 410.9v-28.06h0.86v28.06zM313.19 410.9v-33.07h0.86v33.07zM316.43 410.9v-33.51h0.86v33.51zM319.67 410.9v-34.5h0.86v34.5zM322.91 410.9v-32.83h0.86v32.83zM325.07 410.9v-31.32h0.86v31.32zM328.31 410.9v-31.08h0.86v31.08zM331.55 410.9v-26.69h0.86v26.69zM334.79 410.9v-26.83h0.86v26.83zM336.95 410.9v-27.82h0.86v27.82zM340.19 410.9v-26.88h0.86v26.88zM343.43 410.9v-23.69h0.86v23.69zM346.67 410.9v-21.71h0.86v21.71zM348.83 410.9v-19.62h0.86v19.62zM352.07 410.9v-20.47h0.86v20.47zM355.31 410.9v-17.99h0.86v17.99zM358.55 410.9v-16.24h0.86v16.24zM361.79 410.9v-10.65h0.86v10.65zM363.95 410.9v-13.98h0.86v13.98zM367.19 410.9v-14.52h0.86v14.52zM370.43 410.9v-16.05h0.86v16.05zM373.67 410.9v-15.9h0.86v15.9zM375.83 410.9v-19.02h0.86v19.02zM379.07 410.9v-25.24h0.86v25.24zM382.31 410.9v-28.83h0.86v28.83zM385.55 410.9v-30.74h0.86v30.74zM387.71 410.9v-33.64h0.86v33.64zM390.95 410.9v-36.89h0.86v36.89zM394.19 410.9v-40.82h0.86v40.82zM397.43 410.9v-40.85h0.86v40.85zM399.59 410.9v-40.2h0.86v40.2zM402.83 410.9v-39.18h0.86v39.18zM406.07 410.9v-29.84h0.86v29.84zM409.31 410.9v-26.25h0.86v26.25zM411.47 410.9v-24.91h0.86v24.91zM414.71 410.9v-25.25h0.86v25.25zM417.95 410.9v-23.41h0.86v23.41zM421.19 410.9v-20.57h0.86v20.57zM423.35 410.9v-21.68h0.86v21.68zM426.59 410.9v-21.15h0.86v21.15zM429.83 410.9v-18.96h0.86v18.96zM433.07 410.9v-16.13h0.86v16.13zM436.31 410.9v-11.26h0.86v11.26zM438.47 410.9v-8.86h0.86v8.86zM441.71 410.9v-11.93h0.86v11.93zM444.95 410.9v-10.95h0.86v10.95zM448.19 410.9v-9.83h0.86v9.83zM450.35 410.9v-9.11h0.86v9.11zM453.59 410.9v-10.3h0.86v10.3zM456.83 410.9v-8.78h0.86v8.78zM460.07 410.9v-8.53h0.86v8.53zM462.23 410.9v-12.27h0.86v12.27zM465.47 410.9v-11.52h0.86v11.52zM468.71 410.9v-14.88h0.86v14.88zM471.95 410.9v-10.25h0.86v10.25zM474.11 410.9v-10.71h0.86v10.71zM477.35 410.9v-13.67h0.86v13.67zM480.59 410.9v-14.32h0.86v14.32zM483.83 410.9v-15.35h0.86v15.35zM485.99 410.9v-15.26h0.86v15.26zM489.23 410.9v-14.85h0.86v14.85zM492.47 410.9v-18.45h0.86v18.45zM495.71 410.9v-16.28h0.86v16.28zM497.87 410.9v-16.02h0.86v16.02zM501.11 410.9v-21.32h0.86v21.32zM504.35 410.9v-18.05h0.86v18.05zM507.59 410.9v-19.68h0.86v19.68zM512.99 410.9v-14.05h0.86v14.05zM516.23 410.9v-11.78h0.86v11.78zM519.47 410.9v-8.88h0.86v8.88zM522.71 410.9v-7.67h0.86v7.67zM524.87 410.9v-5.68h0.86v5.68zM528.11 410.9v-4.7h0.86v4.7zM531.35 410.9v-4.64h0.86v4.64zM534.59 410.9v-4.7h0.86v4.7zM536.75 410.9v-6.24h0.86v6.24zM539.99 410.9v-4.24h0.86v4.24zM543.23 410.9v-2.95h0.86v2.95zM546.47 410.9v-4.77h0.86v4.77zM548.63 410.9v-3.87h0.86v3.87zM551.87 410.9v-3.18h0.86v3.18zM555.11 410.9v-3.15h0.86v3.15zM558.35 410.9v-1.77h0.86v1.77zM560.51 410.9v-2.19h0.86v2.19zM563.75 410.9v-2.14h0.86v2.14zM566.99 410.9v-4.23h0.86v4.23zM570.23 410.9v-7.87h0.86v7.87zM572.39 410.9v-7.99h0.86v7.99zM575.63 410.9v-8.98h0.86v8.98zM578.87 410.9v-10.23h0.86v10.23z" fill="#5b8fcc" fill-opacity="0.93"/>
<path d="M74.43 360.2v-0.29h1.03v0.29zM76.59 362.23v-2.47h1.03v2.47zM78.75 364.21v-3.38h1.03v3.38zM79.83 365.6v-3.66h1.03v3.66zM81.99 369.69v-4.33h1.03v4.33zM83.07 370.89v-4.43h1.03v4.43zM85.23 371.9v-3.93h1.03v3.93zM86.31 372.53v-3.92h1.03v3.92zM88.47 378.3v-4.64h1.03v4.64zM90.63 381.64v-4.55h1.03v4.55zM91.71 382.76v-4.54h1.03v4.54zM93.87 384.64v-4.23h1.03v4.23zM94.95 385.94v-4.37h1.03v4.37zM97.11 389.86v-4.3h1.03v4.3zM98.19 391.45v-4.23h1.03v4.23zM100.35 394.66v-4.59h1.03v4.59zM102.51 396.51v-2.67h1.03v2.67zM103.59 397.92v-2.18h1.03v2.18zM105.75 400.16v-0.68h1.03v0.68zM106.83 401.11v-0.42h1.03v0.42zM108.99 402.88v-0.24h1.03v0.24zM110.07 403.99v-0.24h1.03v0.24zM112.23 405.31v-0.05h1.03v0.05z" fill="#f7b23a" fill-opacity="0.88"/>
<path d="M75.51 361.2v-1.32h1.03v1.32zM77.67 363.15v-3.05h1.03v3.05zM80.91 367.81v-4.07h1.03v4.07zM84.15 371.37v-4.19h1.03v4.19zM87.39 374.02v-4.32h1.03v4.32zM89.55 380.33v-4.47h1.03v4.47zM92.79 384.13v-4.23h1.03v4.23zM96.03 388.32v-4.69h1.03v4.69zM99.27 393.82v-4.69h1.03v4.69zM101.43 395.47v-4.48h1.03v4.48zM104.67 399.1v-1.35h1.03v1.35zM107.91 401.96v-0.31h1.03v0.31zM111.15 404.7v-0.15h1.03v0.15z" fill="#f7b23a" fill-opacity="1.0"/>
<path d="M66.87 372.13v-1.17h1.03v1.17zM67.95 363.75v-2.13h1.03v2.13zM70.11 356.84v-5.62h1.03v5.62zM71.19 358.22v-9.09h1.03v9.09zM73.35 359.68v-11.6h1.03v11.6zM74.43 359.91v-9.58h1.03v9.58zM76.59 359.76v-6.35h1.03v6.35zM78.75 360.83v-4.9h1.03v4.9zM79.83 361.94v-4.67h1.03v4.67zM81.99 365.36v-5.74h1.03v5.74zM83.07 366.46v-5.84h1.03v5.84zM85.23 367.97v-5.8h1.03v5.8zM86.31 368.62v-5.65h1.03v5.65zM88.47 373.65v-3.53h1.03v3.53zM90.63 377.09v-3.21h1.03v3.21zM91.71 378.22v-2.48h1.03v2.48zM93.87 380.4v-1.41h1.03v1.41zM94.95 381.57v-1.21h1.03v1.21zM97.11 385.55v-0.51h1.03v0.51zM98.19 387.22v-0.47h1.03v0.47zM100.35 390.07v-0.24h1.03v0.24zM102.51 393.84v-0.04h1.03v0.04zM288.27 405.75v-0.14h1.03v0.14zM290.43 402.32v-0.52h1.03v0.52zM291.51 401.62v-0.71h1.03v0.71zM293.67 401.73v-0.91h1.03v0.91zM294.75 402.26v-1.01h1.03v1.01zM296.91 400.31v-1.23h1.03v1.23zM297.99 399.4v-1.35h1.03v1.35zM300.15 394.56v-1.61h1.03v1.61zM302.31 390.31v-1.86h1.03v1.86zM303.39 389.06v-1.91h1.03v1.91zM305.55 384.14v-1.98h1.03v1.98zM306.63 385.7v-2.02h1.03v2.02zM308.79 385.42v-2.09h1.03v2.09zM309.87 383.81v-2.12h1.03v2.12zM312.03 379.32v-2.12h1.03v2.12zM314.19 377.94v-2.12h1.03v2.12zM315.27 375.08v-2.12h1.03v2.12zM317.43 378.62v-2.12h1.03v2.12zM318.51 378.06v-2.12h1.03v2.12zM320.67 374.62v-2.12h1.03v2.12zM321.75 376.01v-2.12h1.03v2.12zM323.91 378.8v-2.12h1.03v2.12zM326.07 378.37v-2.12h1.03v2.12zM327.15 379.72v-2.16h1.03v2.16zM329.31 379.02v-2.28h1.03v2.28zM330.39 379.41v-2.35h1.03v2.35zM332.55 385.41v-2.35h1.03v2.35zM333.63 384.26v-2.35h1.03v2.35zM335.79 384.26v-2.37h1.03v2.37zM337.95 383.56v-2.5h1.03v2.5zM339.03 384.78v-2.56h1.03v2.56zM341.19 384.92v-2.52h1.03v2.52zM342.27 383.5v-2.48h1.03v2.48zM344.43 386.93v-2.39h1.03v2.39zM345.51 388.25v-2.35h1.03v2.35zM347.67 389.75v-2.22h1.03v2.22zM349.83 388.96v-2.1h1.03v2.1zM350.91 388.58v-2.03h1.03v2.03zM353.07 391.68v-1.91h1.03v1.91zM354.15 393.76v-1.84h1.03v1.84zM356.31 394.37v-1.72h1.03v1.72zM357.39 393.82v-1.65h1.03v1.65zM359.55 398.28v-1.48h1.03v1.48zM360.63 400.47v-1.4h1.03v1.4zM362.79 398.78v-1.23h1.03v1.23zM364.95 396.81v-1.18h1.03v1.18zM366.03 397.04v-1.18h1.03v1.18zM368.19 395.55v-1.18h1.03v1.18zM369.27 395.36v-1.18h1.03v1.18zM371.43 395.58v-1.18h1.03v1.18zM372.51 393.49v-1.18h1.03v1.18zM374.67 392.59v-1.18h1.03v1.18zM376.83 388.95v-1.25h1.03v1.25zM377.91 389.01v-1.32h1.03v1.32zM380.07 384.27v-1.46h1.03v1.46zM381.15 383.26v-1.54h1.03v1.54zM383.31 381.77v-1.71h1.03v1.71zM384.39 379.48v-1.8h1.03v1.8zM386.55 377.68v-1.88h1.03v1.88zM388.71 374.83v-1.88h1.03v1.88zM389.79 376.26v-1.88h1.03v1.88zM391.95 375.77v-1.88h1.03v1.88zM393.03 373.03v-1.88h1.03v1.88zM395.19 372.05v-1.88h1.03v1.88zM396.27 371.62v-1.88h1.03v1.88zM398.43 369.85v-1.88h1.03v1.88zM400.59 368.85v-1.78h1.03v1.78zM401.67 370.43v-1.73h1.03v1.73zM403.83 377.48v-1.63h1.03v1.63zM404.91 381.39v-1.59h1.03v1.59zM407.07 382.14v-1.51h1.03v1.51zM408.15 384.91v-1.46h1.03v1.46zM410.31 382.98v-1.39h1.03v1.39zM412.47 385.44v-1.34h1.03v1.34zM413.55 387.86v-1.32h1.03v1.32zM415.71 385.94v-1.26h1.03v1.26zM416.79 386.19v-1.24h1.03v1.24zM418.95 387.83v-1.19h1.03v1.19zM420.03 390.29v-1.18h1.03v1.18zM422.19 390.13v-1.18h1.03v1.18zM424.35 388.61v-1.18h1.03v1.18zM425.43 385.98v-1.18h1.03v1.18zM427.59 389.33v-1.18h1.03v1.18zM428.67 392.67v-1.18h1.03v1.18zM430.83 391.62v-1.13h1.03v1.13zM431.91 392.77v-1.09h1.03v1.09zM434.07 397.15v-1.02h1.03v1.02zM435.15 399.47v-0.99h1.03v0.99zM437.31 400.27v-0.94h1.03v0.94zM439.47 401.44v-0.94h1.03v0.94zM440.55 399.96v-0.94h1.03v0.94zM442.71 398.41v-0.94h1.03v0.94zM443.79 399.2v-0.94h1.03v0.94zM445.95 399.15v-0.92h1.03v0.92zM447.03 399.86v-0.9h1.03v0.9zM449.19 401.36v-0.87h1.03v0.87zM451.35 402.49v-0.83h1.03v0.83zM452.43 401.5v-0.82h1.03v0.82zM454.59 400.84v-0.78h1.03v0.78zM455.67 401.15v-0.77h1.03v0.77zM457.83 403.16v-0.73h1.03v0.73zM458.91 402.55v-0.71h1.03v0.71zM461.07 400.95v-0.73h1.03v0.73zM463.23 398.72v-0.76h1.03v0.76zM464.31 398.68v-0.78h1.03v0.78zM466.47 400.28v-0.82h1.03v0.82zM467.55 398.25v-0.83h1.03v0.83zM469.71 398.09v-0.87h1.03v0.87zM470.79 399.74v-0.88h1.03v0.88zM472.95 401.28v-0.92h1.03v0.92zM475.11 399.78v-0.94h1.03v0.94zM476.19 398.42v-0.94h1.03v0.94zM478.35 396.78v-0.94h1.03v0.94zM479.43 397.82v-0.94h1.03v0.94zM481.59 396.25v-0.94h1.03v0.94zM482.67 395.99v-0.94h1.03v0.94zM484.83 394.82v-0.94h1.03v0.94zM486.99 396.11v-0.94h1.03v0.94zM488.07 395.73v-0.94h1.03v0.94zM490.23 394.83v-0.96h1.03v0.96zM491.31 393.55v-0.98h1.03v0.98zM493.47 391.18v-1.03h1.03v1.03zM494.55 393.76v-1.06h1.03v1.06zM496.71 395.63v-1.11h1.03v1.11zM498.87 393.3v-1.16h1.03v1.16zM499.95 391.82v-1.17h1.03v1.17zM502.11 392.79v-1.11h1.03v1.11zM503.19 393.08v-1.09h1.03v1.09zM505.35 392.93v-1.04h1.03v1.04zM506.43 390.62v-1.01h1.03v1.01zM508.59 392.99v-0.96h1.03v0.96zM509.67 393.11v-0.94h1.03v0.94zM510.75 395.01v-0.94h1.03v0.94zM511.83 396.02v-0.94h1.03v0.94zM513.99 397.35v-0.94h1.03v0.94zM515.07 397.53v-0.94h1.03v0.94zM517.23 399.52v-0.94h1.03v0.94zM518.31 399.61v-0.81h1.03v0.81zM520.47 404.08v-0.47h1.03v0.47zM521.55 403.45v-0.44h1.03v0.44zM523.71 404.14v-0.39h1.03v0.39zM525.87 406.75v-0.33h1.03v0.33zM526.95 406.84v-0.3h1.03v0.3zM529.11 406.33v-0.25h1.03v0.25zM530.19 406.36v-0.24h1.03v0.24zM532.35 406.34v-0.24h1.03v0.24zM533.43 406.74v-0.24h1.03v0.24zM535.59 405.52v-0.24h1.03v0.24zM537.75 404.49v-0.24h1.03v0.24zM538.83 405.65v-0.24h1.03v0.24zM540.99 408.21v-0.24h1.03v0.24zM542.07 408.63v-0.24h1.03v0.24zM544.23 407.17v-0.24h1.03v0.24zM545.31 406.59v-0.24h1.03v0.24zM547.47 406.92v-0.24h1.03v0.24zM549.63 407.36v-0.24h1.03v0.24zM550.71 407.76v-0.24h1.03v0.24zM552.87 407.04v-0.24h1.03v0.24zM553.95 406.92v-0.24h1.03v0.24zM556.11 408.41v-0.24h1.03v0.24zM557.19 408.62v-0.24h1.03v0.24zM559.35 408.58v-0.24h1.03v0.24zM561.51 408.73v-0.24h1.03v0.24zM562.59 408.76v-0.24h1.03v0.24zM564.75 408.88v-0.24h1.03v0.24zM565.83 408.15v-0.24h1.03v0.24zM567.99 405.27v-0.25h1.03v0.25zM569.07 403.34v-0.29h1.03v0.29zM571.23 401.55v-0.36h1.03v0.36zM573.39 402.77v-0.43h1.03v0.43zM574.47 403.28v-0.47h1.03v0.47zM576.63 402.19v-0.47h1.03v0.47zM577.71 400.82v-0.47h1.03v0.47zM579.87 400.22v-0.47h1.03v0.47zM580.95 399.13v-0.47h1.03v0.47z" fill="#8c98ba" fill-opacity="0.88"/>
<path d="M65.79 379.4v-0.59h1.03v0.59zM69.03 355.95v-2.35h1.03v2.35zM72.27 359.17v-10.73h1.03v10.73zM75.51 359.88v-7.5h1.03v7.5zM77.67 360.1v-5.54h1.03v5.54zM80.91 363.73v-5.32h1.03v5.32zM84.15 367.17v-5.66h1.03v5.66zM87.39 369.7v-4.88h1.03v4.88zM89.55 375.86v-3.43h1.03v3.43zM92.79 379.89v-1.41h1.03v1.41zM96.03 383.64v-0.73h1.03v0.73zM99.27 389.13v-0.24h1.03v0.24zM101.43 390.99v-0.24h1.03v0.24zM289.35 404.01v-0.33h1.03v0.33zM292.59 400.83v-0.81h1.03v0.81zM295.83 401.83v-1.11h1.03v1.11zM299.07 397.81v-1.48h1.03v1.48zM301.23 391.96v-1.73h1.03v1.73zM304.47 387.41v-1.95h1.03v1.95zM307.71 384.84v-2.06h1.03v2.06zM310.95 382.84v-2.12h1.03v2.12zM313.11 377.83v-2.12h1.03v2.12zM316.35 377.39v-2.12h1.03v2.12zM319.59 376.4v-2.12h1.03v2.12zM322.83 378.07v-2.12h1.03v2.12zM324.99 379.58v-2.12h1.03v2.12zM328.23 379.82v-2.22h1.03v2.22zM331.47 384.21v-2.35h1.03v2.35zM334.71 384.07v-2.35h1.03v2.35zM336.87 383.08v-2.43h1.03v2.43zM340.11 384.02v-2.56h1.03v2.56zM343.35 387.21v-2.44h1.03v2.44zM346.59 389.19v-2.29h1.03v2.29zM348.75 391.28v-2.16h1.03v2.16zM351.99 390.43v-1.97h1.03v1.97zM355.23 392.91v-1.78h1.03v1.78zM358.47 394.66v-1.57h1.03v1.57zM361.71 400.25v-1.32h1.03v1.32zM363.87 396.92v-1.18h1.03v1.18zM367.11 396.38v-1.18h1.03v1.18zM370.35 394.85v-1.18h1.03v1.18zM373.59 395v-1.18h1.03v1.18zM375.75 391.88v-1.19h1.03v1.19zM378.99 385.66v-1.38h1.03v1.38zM382.23 382.07v-1.63h1.03v1.63zM385.47 380.16v-1.88h1.03v1.88zM387.63 377.26v-1.88h1.03v1.88zM390.87 374.01v-1.88h1.03v1.88zM394.11 370.08v-1.88h1.03v1.88zM397.35 370.05v-1.88h1.03v1.88zM399.51 370.7v-1.83h1.03v1.83zM402.75 371.72v-1.68h1.03v1.68zM405.99 381.06v-1.55h1.03v1.55zM409.23 384.65v-1.42h1.03v1.42zM411.39 385.99v-1.37h1.03v1.37zM414.63 385.65v-1.29h1.03v1.29zM417.87 387.49v-1.21h1.03v1.21zM421.11 390.33v-1.18h1.03v1.18zM423.27 389.22v-1.18h1.03v1.18zM426.51 389.75v-1.18h1.03v1.18zM429.75 391.94v-1.17h1.03v1.17zM432.99 394.77v-1.06h1.03v1.06zM436.23 399.64v-0.95h1.03v0.95zM438.39 402.04v-0.94h1.03v0.94zM441.63 398.97v-0.94h1.03v0.94zM444.87 399.95v-0.93h1.03v0.93zM448.11 401.07v-0.88h1.03v0.88zM450.27 401.79v-0.85h1.03v0.85zM453.51 400.6v-0.8h1.03v0.8zM456.75 402.12v-0.75h1.03v0.75zM459.99 402.37v-0.71h1.03v0.71zM462.15 398.63v-0.75h1.03v0.75zM465.39 399.38v-0.8h1.03v0.8zM468.63 396.02v-0.85h1.03v0.85zM471.87 400.65v-0.9h1.03v0.9zM474.03 400.19v-0.93h1.03v0.93zM477.27 397.23v-0.94h1.03v0.94zM480.51 396.58v-0.94h1.03v0.94zM483.75 395.55v-0.94h1.03v0.94zM485.91 395.64v-0.94h1.03v0.94zM489.15 396.05v-0.94h1.03v0.94zM492.39 392.45v-1.01h1.03v1.01zM495.63 394.62v-1.09h1.03v1.09zM497.79 394.88v-1.14h1.03v1.14zM501.03 389.58v-1.14h1.03v1.14zM504.27 392.85v-1.06h1.03v1.06zM507.51 391.22v-0.99h1.03v0.99zM512.91 396.85v-0.94h1.03v0.94zM516.15 399.12v-0.94h1.03v0.94zM519.39 402.02v-0.64h1.03v0.64zM522.63 403.23v-0.41h1.03v0.41zM524.79 405.22v-0.36h1.03v0.36zM528.03 406.2v-0.27h1.03v0.27zM531.27 406.26v-0.24h1.03v0.24zM534.51 406.2v-0.24h1.03v0.24zM536.67 404.66v-0.24h1.03v0.24zM539.91 406.66v-0.24h1.03v0.24zM543.15 407.95v-0.24h1.03v0.24zM546.39 406.13v-0.24h1.03v0.24zM548.55 407.03v-0.24h1.03v0.24zM551.79 407.72v-0.24h1.03v0.24zM555.03 407.75v-0.24h1.03v0.24zM558.27 409.13v-0.24h1.03v0.24zM560.43 408.71v-0.24h1.03v0.24zM563.67 408.76v-0.24h1.03v0.24zM566.91 406.67v-0.24h1.03v0.24zM570.15 403.03v-0.32h1.03v0.32zM572.31 402.91v-0.4h1.03v0.4zM575.55 401.92v-0.47h1.03v0.47zM578.79 400.67v-0.47h1.03v0.47z" fill="#8c98ba" fill-opacity="1.0"/>
<path d="M43.08 410.8v-0.02h1.08v0.02zM44.16 410.8v-0.04h1.08v0.04zM46.32 410.8v-0.07h1.08v0.07zM47.4 410.8v-0.09h1.08v0.09zM49.56 410.8v-0.13h1.08v0.13zM50.64 410.8v-0.28h1.08v0.28zM52.8 410.69v-0.52h1.08v0.52zM54.96 410.41v-0.84h1.08v0.84zM56.04 410.07v-1.14h1.08v1.14zM58.2 408.44v-2.15h1.08v2.15zM59.28 406.72v-2.84h1.08v2.84zM61.44 400.61v-6.75h1.08v6.75zM62.52 396.42v-9.27h1.08v9.27zM64.68 386.66v-15.57h1.08v15.57zM66.84 370.96v-21.53h1.08v21.53zM67.92 361.61v-22.71h1.08v22.71zM70.08 351.21v-26.53h1.08v26.53zM71.16 349.13v-26.76h1.08v26.76zM73.32 348.08v-28.3h1.08v28.3zM74.4 350.32v-26.15h1.08v26.15zM76.56 353.41v-22.77h1.08v22.77zM78.72 355.92v-25.65h1.08v25.65zM79.8 357.27v-27.54h1.08v27.54zM81.96 359.62v-19.44h1.08v19.44zM83.04 360.62v-20.16h1.08v20.16zM85.2 362.18v-21.53h1.08v21.53zM86.28 362.96v-22.6h1.08v22.6zM88.44 370.12v-22.06h1.08v22.06zM90.6 373.88v-18.06h1.08v18.06zM91.68 375.74v-16.25h1.08v16.25zM93.84 378.99v-15.2h1.08v15.2zM94.92 380.37v-16.39h1.08v16.39zM97.08 385.05v-15.22h1.08v15.22zM98.16 386.75v-15.48h1.08v15.48zM100.32 389.83v-10.84h1.08v10.84zM102.48 393.81v-11.19h1.08v11.19zM103.56 395.75v-8.31h1.08v8.31zM105.72 399.48v-5.95h1.08v5.95zM106.8 400.69v-5.35h1.08v5.35zM108.96 402.64v-5.13h1.08v5.13zM110.04 403.75v-2.98h1.08v2.98zM112.2 405.26v-2.67h1.08v2.67zM113.28 405.96v-2.3h1.08v2.3zM115.44 406.57v-1.69h1.08v1.69zM117.6 407.16v-1.32h1.08v1.32zM118.68 407.77v-0.96h1.08v0.96zM120.84 408.41v-0.71h1.08v0.71zM121.92 408.56v-0.71h1.08v0.71zM124.08 408.86v-0.71h1.08v0.71zM125.16 409.02v-0.66h1.08v0.66zM127.32 409.32v-0.5h1.08v0.5zM129.48 409.63v-0.35h1.08v0.35zM130.56 409.71v-0.29h1.08v0.29zM132.72 409.87v-0.19h1.08v0.19zM133.8 409.9v-0.17h1.08v0.17zM135.96 409.98v-0.12h1.08v0.12zM137.04 410.01v-0.08h1.08v0.08zM151.08 410.36v-0.03h1.08v0.03zM153.24 410.39v-0.06h1.08v0.06zM154.32 410.41v-0.08h1.08v0.08zM156.48 410.44v-0.11h1.08v0.11zM157.56 410.46v-0.13h1.08v0.13zM159.72 410.49v-0.16h1.08v0.16zM160.8 410.51v-0.18h1.08v0.18zM162.96 410.54v-0.21h1.08v0.21zM165.12 410.56v-0.22h1.08v0.22zM166.2 410.56v-0.21h1.08v0.21zM168.36 410.56v-0.17h1.08v0.17zM169.44 410.56v-0.16h1.08v0.16zM171.6 410.56v-0.12h1.08v0.12zM172.68 410.56v-0.11h1.08v0.11zM174.84 410.56v-0.07h1.08v0.07zM177 410.56v-0.04h1.08v0.04zM178.08 410.56v-0.02h1.08v0.02zM198.6 410.99v-0.35h1.08v0.35zM199.68 410.85v-0.46h1.08v0.46zM201.84 410.83v-0.68h1.08v0.68zM204 410.23v-0.89h1.08v0.89zM205.08 409.76v-1h1.08v1zM207.24 409.46v-1.2h1.08v1.2zM208.32 409.19v-1.3h1.08v1.3zM210.48 408.79v-1.51h1.08v1.51zM211.56 409.48v-1.61h1.08v1.61zM213.72 409.42v-1.81h1.08v1.81zM215.88 409.29v-1.95h1.08v1.95zM216.96 409.66v-2h1.08v2zM219.12 408.67v-2.1h1.08v2.1zM220.2 408.28v-2.15h1.08v2.15zM222.36 407.51v-2.25h1.08v2.25zM223.44 407.28v-2.3h1.08v2.3zM225.6 406.46v-2.41h1.08v2.41zM227.76 405.87v-2.51h1.08v2.51zM228.84 405.96v-2.56h1.08v2.56zM231 406.75v-2.66h1.08v2.66zM232.08 407.08v-2.71h1.08v2.71zM234.24 407.91v-2.81h1.08v2.81zM235.32 407.36v-2.86h1.08v2.86zM237.48 405.84v-2.96h1.08v2.96zM239.64 404.54v-3.07h1.08v3.07zM240.72 403.52v-3.12h1.08v3.12zM242.88 402.98v-3.22h1.08v3.22zM243.96 402.47v-3.27h1.08v3.27zM246.12 401.75v-3.37h1.08v3.37zM247.2 402.05v-3.42h1.08v3.42zM249.36 402.15v-3.52h1.08v3.52zM251.52 399.04v-3.62h1.08v3.62zM252.6 397.69v-3.68h1.08v3.68zM254.76 399.14v-3.75h1.08v3.75zM255.84 400.09v-3.72h1.08v3.72zM258 399.34v-3.65h1.08v3.65zM259.08 398.73v-3.62h1.08v3.62zM261.24 398.24v-3.55h1.08v3.55zM263.4 401.22v-3.48h1.08v3.48zM264.48 400.39v-3.45h1.08v3.45zM266.64 401.05v-3.38h1.08v3.38zM267.72 401.08v-3.35h1.08v3.35zM269.88 401.75v-3.28h1.08v3.28zM270.96 401.92v-3.23h1.08v3.23zM273.12 404.06v-3.15h1.08v3.15zM274.2 404.96v-3.11h1.08v3.11zM276.36 405.1v-3.02h1.08v3.02zM278.52 406.01v-2.94h1.08v2.94zM279.6 405.97v-2.9h1.08v2.9zM281.76 405.26v-2.81h1.08v2.81zM282.84 404.95v-2.77h1.08v2.77zM285 405v-2.68h1.08v2.68zM286.08 406.01v-2.64h1.08v2.64zM288.24 405.62v-2.72h1.08v2.72zM290.4 401.8v-3.11h1.08v3.11zM291.48 400.92v-3.3h1.08v3.3zM293.64 400.82v-3.91h1.08v3.91zM294.72 401.24v-4.21h1.08v4.21zM296.88 399.09v-4.84h1.08v4.84zM297.96 398.05v-5.17h1.08v5.17zM300.12 392.95v-5.85h1.08v5.85zM302.28 388.45v-6.53h1.08v6.53zM303.36 387.14v-6.8h1.08v6.8zM305.52 382.16v-7.31h1.08v7.31zM306.6 383.68v-7.56h1.08v7.56zM308.76 383.33v-8.07h1.08v8.07zM309.84 381.69v-8.25h1.08v8.25zM312 377.2v-8.33h1.08v8.33zM314.16 375.82v-8.42h1.08v8.42zM315.24 372.97v-8.46h1.08v8.46zM317.4 376.5v-8.62h1.08v8.62zM318.48 375.95v-8.7h1.08v8.7zM320.64 372.5v-8.87h1.08v8.87zM321.72 373.89v-8.94h1.08v8.94zM323.88 376.68v-8.94h1.08v8.94zM326.04 376.25v-8.94h1.08v8.94zM327.12 377.56v-8.94h1.08v8.94zM329.28 376.74v-8.94h1.08v8.94zM330.36 377.06v-8.94h1.08v8.94zM332.52 383.06v-8.94h1.08v8.94zM333.6 381.91v-8.94h1.08v8.94zM335.76 381.89v-8.97h1.08v8.97zM337.92 381.06v-9.23h1.08v9.23zM339 382.21v-9.35h1.08v9.35zM341.16 382.4v-9.01h1.08v9.01zM342.24 381.02v-8.75h1.08v8.75zM344.4 384.54v-8.25h1.08v8.25zM345.48 385.9v-7.99h1.08v7.99zM347.64 387.53v-7.23h1.08v7.23zM349.8 386.86v-6.47h1.08v6.47zM350.88 386.54v-6.08h1.08v6.08zM353.04 389.77v-5.32h1.08v5.32zM354.12 391.92v-5.02h1.08v5.02zM356.28 392.65v-4.51h1.08v4.51zM357.36 392.17v-4.26h1.08v4.26zM359.52 396.79v-3.59h1.08v3.59zM360.6 399.07v-3.28h1.08v3.28zM362.76 397.54v-3.11h1.08v3.11zM364.92 395.64v-3.14h1.08v3.14zM366 395.86v-3.21h1.08v3.21zM368.16 394.37v-3.33h1.08v3.33zM369.24 394.18v-3.4h1.08v3.4zM371.4 394.4v-3.52h1.08v3.52zM372.48 392.31v-3.59h1.08v3.59zM374.64 391.41v-3.71h1.08v3.71zM376.8 387.7v-4.08h1.08v4.08zM377.88 387.7v-4.33h1.08v4.33zM380.04 382.81v-4.89h1.08v4.89zM381.12 381.72v-5.22h1.08v5.22zM383.28 380.06v-6.03h1.08v6.03zM384.36 377.69v-6.54h1.08v6.54zM386.52 375.8v-7.06h1.08v7.06zM388.68 372.95v-7.06h1.08v7.06zM389.76 374.38v-7.06h1.08v7.06zM391.92 373.88v-7.03h1.08v7.03zM393 371.15v-6.95h1.08v6.95zM395.16 370.17v-6.81h1.08v6.81zM396.24 369.74v-6.73h1.08v6.73zM398.4 367.97v-6.59h1.08v6.59zM400.56 367.06v-6.49h1.08v6.49zM401.64 368.7v-6.44h1.08v6.44zM403.8 375.85v-6.36h1.08v6.36zM404.88 379.8v-6.41h1.08v6.41zM407.04 380.64v-6.49h1.08v6.49zM408.12 383.45v-6.53h1.08v6.53zM410.28 381.58v-6.57h1.08v6.57zM412.44 384.09v-6.52h1.08v6.52zM413.52 386.54v-6.49h1.08v6.49zM415.68 384.67v-6.44h1.08v6.44zM416.76 384.95v-6.41h1.08v6.41zM418.92 386.64v-6.36h1.08v6.36zM420 389.11v-6.34h1.08v6.34zM422.16 388.95v-6.29h1.08v6.29zM424.32 387.43v-6.24h1.08v6.24zM425.4 384.81v-6.21h1.08v6.21zM427.56 388.15v-6.16h1.08v6.16zM428.64 391.49v-6.13h1.08v6.13zM430.8 390.48v-5.85h1.08v5.85zM431.88 391.68v-5.63h1.08v5.63zM434.04 396.13v-5.19h1.08v5.19zM435.12 398.49v-4.97h1.08v4.97zM437.28 399.33v-4.66h1.08v4.66zM439.44 400.5v-4.53h1.08v4.53zM440.52 399.02v-4.47h1.08v4.47zM442.68 397.47v-4.34h1.08v4.34zM443.76 398.26v-4.27h1.08v4.27zM445.92 398.23v-4.21h1.08v4.21zM447 398.96v-4.19h1.08v4.19zM449.16 400.49v-4.16h1.08v4.16zM451.32 401.66v-4.13h1.08v4.13zM452.4 400.68v-4.11h1.08v4.11zM454.56 400.06v-4.08h1.08v4.08zM455.64 400.38v-4.06h1.08v4.06zM457.8 402.43v-4.02h1.08v4.02zM458.88 401.84v-4.01h1.08v4.01zM461.04 400.22v-4.02h1.08v4.02zM463.2 397.96v-4.06h1.08v4.06zM464.28 397.9v-4.07h1.08v4.07zM466.44 399.46v-4.11h1.08v4.11zM467.52 397.42v-4.12h1.08v4.12zM469.68 397.22v-4.16h1.08v4.16zM470.76 398.85v-4.18h1.08v4.18zM472.92 400.37v-4.21h1.08v4.21zM475.08 398.83v-4.26h1.08v4.26zM476.16 397.48v-4.31h1.08v4.31zM478.32 395.84v-4.42h1.08v4.42zM479.4 396.88v-4.47h1.08v4.47zM481.56 395.3v-4.57h1.08v4.57zM482.64 395.05v-4.62h1.08v4.62zM484.8 393.88v-4.72h1.08v4.72zM486.96 395.17v-4.82h1.08v4.82zM488.04 394.79v-4.87h1.08v4.87zM490.2 393.87v-4.99h1.08v4.99zM491.28 392.57v-5.07h1.08v5.07zM493.44 390.14v-5.22h1.08v5.22zM494.52 392.7v-5.3h1.08v5.3zM496.68 394.52v-5.45h1.08v5.45zM498.84 392.14v-5.6h1.08v5.6zM499.92 390.65v-5.61h1.08v5.61zM502.08 391.68v-5.46h1.08v5.46zM503.16 391.99v-5.38h1.08v5.38zM505.32 391.89v-5.23h1.08v5.23zM506.4 389.61v-5.16h1.08v5.16zM508.56 392.02v-5h1.08v5zM509.64 392.17v-4.92h1.08v4.92zM510.72 394.07v-4.79h1.08v4.79zM511.8 395.08v-4.66h1.08v4.66zM513.96 396.41v-4.41h1.08v4.41zM515.04 396.59v-4.28h1.08v4.28zM517.2 398.57v-4.03h1.08v4.03zM518.28 398.8v-3.48h1.08v3.48zM520.44 403.61v-2.13h1.08v2.13zM521.52 403v-2.09h1.08v2.09zM523.68 403.75v-2.03h1.08v2.03zM525.84 406.42v-1.98h1.08v1.98zM526.92 406.54v-1.95h1.08v1.95zM529.08 406.08v-1.89h1.08v1.89zM530.16 406.12v-1.86h1.08v1.86zM532.32 406.1v-1.79h1.08v1.79zM533.4 406.51v-1.76h1.08v1.76zM535.56 405.29v-1.69h1.08v1.69zM537.72 404.25v-1.62h1.08v1.62zM538.8 405.42v-1.59h1.08v1.59zM540.96 407.97v-1.52h1.08v1.52zM542.04 408.39v-1.49h1.08v1.49zM544.2 406.94v-1.42h1.08v1.42zM545.28 406.36v-1.4h1.08v1.4zM547.44 406.68v-1.36h1.08v1.36zM549.6 407.13v-1.33h1.08v1.33zM550.68 407.52v-1.31h1.08v1.31zM552.84 406.81v-1.28h1.08v1.28zM553.92 406.69v-1.26h1.08v1.26zM556.08 408.17v-1.23h1.08v1.23zM557.16 408.38v-1.21h1.08v1.21zM559.32 408.35v-1.18h1.08v1.18zM561.48 408.5v-1.35h1.08v1.35zM562.56 408.53v-1.45h1.08v1.45zM564.72 408.64v-1.64h1.08v1.64zM565.8 407.91v-1.74h1.08v1.74zM567.96 405.02v-1.93h1.08v1.93zM569.04 403.06v-2.04h1.08v2.04zM571.2 401.19v-2.26h1.08v2.26zM573.36 402.34v-2.48h1.08v2.48zM574.44 402.81v-2.59h1.08v2.59zM576.6 401.72v-2.66h1.08v2.66zM577.68 400.35v-2.7h1.08v2.7zM579.84 399.75v-2.77h1.08v2.77zM580.92 398.66v-2.8h1.08v2.8z" fill="#2545f2" fill-opacity="0.9"/>
<path d="M45.24 410.8v-0.06h1.08v0.06zM48.48 410.8v-0.1h1.08v0.1zM51.72 410.78v-0.42h1.08v0.42zM53.88 410.61v-0.64h1.08v0.64zM57.12 409.73v-1.76h1.08v1.76zM60.36 404.77v-5.16h1.08v5.16zM63.6 391.57v-11.38h1.08v11.38zM65.76 378.81v-18.37h1.08v18.37zM69 353.6v-24.57h1.08v24.57zM72.24 348.45v-27.32h1.08v27.32zM75.48 352.37v-22.35h1.08v22.35zM77.64 354.56v-23.82h1.08v23.82zM80.88 358.41v-23.04h1.08v23.04zM84.12 361.51v-20.76h1.08v20.76zM87.36 364.83v-24.08h1.08v24.08zM89.52 372.43v-18.7h1.08v18.7zM92.76 378.48v-14.43h1.08v14.43zM96 382.91v-16.11h1.08v16.11zM99.24 388.88v-10.46h1.08v10.46zM101.4 390.76v-11.38h1.08v11.38zM104.64 397.75v-7.04h1.08v7.04zM107.88 401.64v-5.6h1.08v5.6zM111.12 404.55v-2.6h1.08v2.6zM114.36 406.41v-1.8h1.08v1.8zM116.52 406.73v-1.57h1.08v1.57zM119.76 408.26v-0.71h1.08v0.71zM123 408.71v-0.71h1.08v0.71zM126.24 409.17v-0.58h1.08v0.58zM128.4 409.47v-0.43h1.08v0.43zM131.64 409.79v-0.23h1.08v0.23zM134.88 409.94v-0.15h1.08v0.15zM138.12 410.05v-0.05h1.08v0.05zM152.16 410.37v-0.04h1.08v0.04zM155.4 410.42v-0.09h1.08v0.09zM158.64 410.47v-0.14h1.08v0.14zM161.88 410.52v-0.19h1.08v0.19zM164.04 410.56v-0.23h1.08v0.23zM167.28 410.56v-0.19h1.08v0.19zM170.52 410.56v-0.14h1.08v0.14zM173.76 410.56v-0.09h1.08v0.09zM175.92 410.56v-0.06h1.08v0.06zM197.52 410.92v-0.24h1.08v0.24zM200.76 410.72v-0.57h1.08v0.57zM202.92 410.37v-0.79h1.08v0.79zM206.16 409.56v-1.1h1.08v1.1zM209.4 408.85v-1.41h1.08v1.41zM212.64 409.45v-1.71h1.08v1.71zM214.8 409.65v-1.9h1.08v1.9zM218.04 408.95v-2.05h1.08v2.05zM221.28 407.78v-2.2h1.08v2.2zM224.52 407.4v-2.35h1.08v2.35zM226.68 405.92v-2.46h1.08v2.46zM229.92 406.42v-2.61h1.08v2.61zM233.16 407.51v-2.76h1.08v2.76zM236.4 406.43v-2.91h1.08v2.91zM238.56 405.02v-3.02h1.08v3.02zM241.8 402.99v-3.17h1.08v3.17zM245.04 401.42v-3.32h1.08v3.32zM248.28 403.02v-3.47h1.08v3.47zM250.44 400.16v-3.57h1.08v3.57zM253.68 398.72v-3.73h1.08v3.73zM256.92 400.16v-3.69h1.08v3.69zM260.16 397.69v-3.58h1.08v3.58zM262.32 400.47v-3.52h1.08v3.52zM265.56 401.1v-3.42h1.08v3.42zM268.8 400.93v-3.31h1.08v3.31zM272.04 402.76v-3.19h1.08v3.19zM275.28 405.13v-3.06h1.08v3.06zM277.44 405.69v-2.98h1.08v2.98zM280.68 405.58v-2.85h1.08v2.85zM283.92 404.4v-2.73h1.08v2.73zM287.16 406.12v-2.6h1.08v2.6zM289.32 403.69v-2.92h1.08v2.92zM292.56 400.02v-3.6h1.08v3.6zM295.8 400.72v-4.52h1.08v4.52zM299.04 396.33v-5.51h1.08v5.51zM301.2 390.23v-6.19h1.08v6.19zM304.44 385.46v-7.05h1.08v7.05zM307.68 382.79v-7.81h1.08v7.81zM310.92 380.72v-8.29h1.08v8.29zM313.08 375.72v-8.37h1.08v8.37zM316.32 375.27v-8.53h1.08v8.53zM319.56 374.28v-8.79h1.08v8.79zM322.8 375.96v-8.94h1.08v8.94zM324.96 377.46v-8.94h1.08v8.94zM328.2 377.6v-8.94h1.08v8.94zM331.44 381.86v-8.94h1.08v8.94zM334.68 381.72v-8.94h1.08v8.94zM336.84 380.65v-9.1h1.08v9.1zM340.08 381.46v-9.26h1.08v9.26zM343.32 384.77v-8.5h1.08v8.5zM346.56 386.91v-7.61h1.08v7.61zM348.72 389.12v-6.85h1.08v6.85zM351.96 388.46v-5.7h1.08v5.7zM355.2 391.13v-4.77h1.08v4.77zM358.44 393.09v-3.93h1.08v3.93zM361.68 398.94v-3.2h1.08v3.2zM363.84 395.74v-3.08h1.08v3.08zM367.08 395.2v-3.27h1.08v3.27zM370.32 393.67v-3.46h1.08v3.46zM373.56 393.82v-3.65h1.08v3.65zM375.72 390.68v-3.82h1.08v3.82zM378.96 384.28v-4.59h1.08v4.59zM382.2 380.44v-5.56h1.08v5.56zM385.44 378.28v-7.05h1.08v7.05zM387.6 375.38v-7.06h1.08v7.06zM390.84 372.13v-7.06h1.08v7.06zM394.08 368.2v-6.88h1.08v6.88zM397.32 368.16v-6.66h1.08v6.66zM399.48 368.87v-6.54h1.08v6.54zM402.72 370.04v-6.39h1.08v6.39zM405.96 379.52v-6.45h1.08v6.45zM409.2 383.23v-6.58h1.08v6.58zM411.36 384.62v-6.54h1.08v6.54zM414.6 384.36v-6.46h1.08v6.46zM417.84 386.27v-6.39h1.08v6.39zM421.08 389.15v-6.31h1.08v6.31zM423.24 388.05v-6.26h1.08v6.26zM426.48 388.57v-6.19h1.08v6.19zM429.72 390.77v-6.06h1.08v6.06zM432.96 393.72v-5.41h1.08v5.41zM436.2 398.69v-4.76h1.08v4.76zM438.36 401.1v-4.59h1.08v4.59zM441.6 398.03v-4.4h1.08v4.4zM444.84 399.01v-4.23h1.08v4.23zM448.08 400.18v-4.18h1.08v4.18zM450.24 400.94v-4.14h1.08v4.14zM453.48 399.8v-4.09h1.08v4.09zM456.72 401.37v-4.04h1.08v4.04zM459.96 401.66v-4.01h1.08v4.01zM462.12 397.89v-4.04h1.08v4.04zM465.36 398.58v-4.09h1.08v4.09zM468.6 395.17v-4.14h1.08v4.14zM471.84 399.75v-4.19h1.08v4.19zM474 399.25v-4.23h1.08v4.23zM477.24 396.29v-4.36h1.08v4.36zM480.48 395.64v-4.52h1.08v4.52zM483.72 394.61v-4.67h1.08v4.67zM485.88 394.7v-4.77h1.08v4.77zM489.12 395.11v-4.92h1.08v4.92zM492.36 391.44v-5.14h1.08v5.14zM495.6 393.54v-5.37h1.08v5.37zM497.76 393.75v-5.52h1.08v5.52zM501 388.44v-5.54h1.08v5.54zM504.24 391.79v-5.31h1.08v5.31zM507.48 390.23v-5.08h1.08v5.08zM512.88 395.91v-4.54h1.08v4.54zM516.12 398.18v-4.16h1.08v4.16zM519.36 401.38v-2.81h1.08v2.81zM522.6 402.82v-2.06h1.08v2.06zM524.76 404.86v-2h1.08v2zM528 405.92v-1.92h1.08v1.92zM531.24 406.03v-1.83h1.08v1.83zM534.48 405.97v-1.72h1.08v1.72zM536.64 404.42v-1.66h1.08v1.66zM539.88 406.43v-1.55h1.08v1.55zM543.12 407.71v-1.45h1.08v1.45zM546.36 405.89v-1.38h1.08v1.38zM548.52 406.79v-1.35h1.08v1.35zM551.76 407.48v-1.3h1.08v1.3zM555 407.52v-1.25h1.08v1.25zM558.24 408.89v-1.2h1.08v1.2zM560.4 408.47v-1.26h1.08v1.26zM563.64 408.53v-1.54h1.08v1.54zM566.88 406.43v-1.83h1.08v1.83zM570.12 402.71v-2.15h1.08v2.15zM572.28 402.52v-2.37h1.08v2.37zM575.52 401.45v-2.62h1.08v2.62zM578.76 400.2v-2.73h1.08v2.73z" fill="#2545f2" fill-opacity="1.0"/>
<path d="M66.87 349.43v-0.17h1.03v0.17zM67.95 338.9v-0.66h1.03v0.66zM70.11 324.68v-1.88h1.03v1.88zM71.19 322.37v-2.62h1.03v2.62zM73.35 319.78v-2.81h1.03v2.81zM74.43 324.17v-2.8h1.03v2.8zM76.59 330.65v-2.78h1.03v2.78zM78.75 330.27v-2.76h1.03v2.76zM79.83 329.73v-2.75h1.03v2.75zM81.99 340.18v-2.73h1.03v2.73zM83.07 340.46v-2.73h1.03v2.73zM85.23 340.64v-2.71h1.03v2.71zM86.31 340.36v-2.7h1.03v2.7zM88.47 348.06v-2.68h1.03v2.68zM90.63 355.81v-2.66h1.03v2.66zM91.71 359.5v-2.65h1.03v2.65zM93.87 363.79v-2.63h1.03v2.63zM94.95 363.97v-2.63h1.03v2.63zM97.11 369.82v-2.61h1.03v2.61zM98.19 371.26v-2.6h1.03v2.6zM100.35 378.99v-2.44h1.03v2.44zM102.51 382.62v-2.05h1.03v2.05zM103.59 387.44v-1.86h1.03v1.86zM105.75 393.53v-1.48h1.03v1.48zM106.83 395.35v-1.29h1.03v1.29zM108.99 397.51v-1.08h1.03v1.08zM110.07 400.77v-1h1.03v1zM112.23 402.59v-0.86h1.03v0.86zM113.31 403.66v-0.78h1.03v0.78zM115.47 404.88v-0.66h1.03v0.66zM117.63 405.84v-0.56h1.03v0.56zM118.71 406.81v-0.51h1.03v0.51zM120.87 407.7v-0.41h1.03v0.41zM121.95 407.85v-0.35h1.03v0.35zM124.11 408.16v-0.25h1.03v0.25zM125.19 408.36v-0.22h1.03v0.22zM127.35 408.82v-0.17h1.03v0.17zM129.51 409.27v-0.12h1.03v0.12zM130.59 409.42v-0.09h1.03v0.09zM132.75 409.68v-0.04h1.03v0.04zM133.83 409.73v-0.02h1.03v0.02zM317.43 367.88v-0.08h1.03v0.08zM318.51 367.24v-0.15h1.03v0.15zM320.67 363.63v-0.21h1.03v0.21zM321.75 364.96v-0.18h1.03v0.18zM323.91 367.74v-0.3h1.03v0.3zM326.07 367.31v-0.64h1.03v0.64zM327.15 368.62v-0.59h1.03v0.59zM329.31 367.8v-1.26h1.03v1.26zM330.39 368.13v-1.48h1.03v1.48zM332.55 374.12v-1.42h1.03v1.42zM333.63 372.97v-1.55h1.03v1.55zM335.79 372.92v-3.22h1.03v3.22zM337.95 371.83v-2.33h1.03v2.33zM339.03 372.86v-2.47h1.03v2.47zM341.19 373.39v-3.9h1.03v3.9zM342.27 372.26v-2.54h1.03v2.54zM344.43 376.29v-2.92h1.03v2.92zM345.51 377.91v-2.21h1.03v2.21zM347.67 380.3v-3.28h1.03v3.28zM349.83 380.4v-3.67h1.03v3.67zM350.91 380.46v-3.47h1.03v3.47zM353.07 384.45v-3.71h1.03v3.71zM354.15 386.9v-4.31h1.03v4.31zM356.31 388.14v-4.1h1.03v4.1zM357.39 387.91v-2.49h1.03v2.49zM359.55 393.21v-2.98h1.03v2.98zM360.63 395.79v-2.59h1.03v2.59zM362.79 394.43v-1.47h1.03v1.47zM364.95 392.5v-1.85h1.03v1.85zM366.03 392.66v-1.59h1.03v1.59zM368.19 391.04v-1.1h1.03v1.1zM369.27 390.79v-1.86h1.03v1.86zM371.43 390.88v-1.79h1.03v1.79zM372.51 388.72v-0.79h1.03v0.79zM374.67 387.69v-0.62h1.03v0.62zM376.83 383.62v-0.61h1.03v0.61zM377.91 383.36v-0.63h1.03v0.63zM380.07 377.92v-0.35h1.03v0.35zM381.15 376.49v-0.24h1.03v0.24z" fill="#2f8f48" fill-opacity="0.8"/>
<path d="M69.03 329.03v-1.15h1.03v1.15zM72.27 321.13v-2.82h1.03v2.82zM75.51 330.02v-2.79h1.03v2.79zM77.67 330.75v-2.77h1.03v2.77zM80.91 335.37v-2.74h1.03v2.74zM84.15 340.75v-2.72h1.03v2.72zM87.39 340.75v-2.69h1.03v2.69zM89.55 353.73v-2.67h1.03v2.67zM92.79 364.05v-2.64h1.03v2.64zM96.03 366.8v-2.62h1.03v2.62zM99.27 378.42v-2.59h1.03v2.59zM101.43 379.38v-2.24h1.03v2.24zM104.67 390.71v-1.67h1.03v1.67zM107.91 396.05v-1.15h1.03v1.15zM111.15 401.95v-0.93h1.03v0.93zM114.39 404.61v-0.71h1.03v0.71zM116.55 405.16v-0.61h1.03v0.61zM119.79 407.55v-0.46h1.03v0.46zM123.03 408.01v-0.3h1.03v0.3zM126.27 408.59v-0.19h1.03v0.19zM128.43 409.05v-0.14h1.03v0.14zM131.67 409.56v-0.07h1.03v0.07zM316.35 366.74v-0.03h1.03v0.03zM319.59 365.49v-0.15h1.03v0.15zM322.83 367.02v-0.29h1.03v0.29zM324.99 368.52v-0.61h1.03v0.61zM328.23 368.67v-1.43h1.03v1.43zM331.47 372.92v-2.31h1.03v2.31zM334.71 372.78v-2.98h1.03v2.98zM336.87 371.55v-1.66h1.03v1.66zM340.11 372.2v-3.47h1.03v3.47zM343.35 376.27v-4.17h1.03v4.17zM346.59 379.3v-4.21h1.03v4.21zM348.75 382.27v-4.42h1.03v4.42zM351.99 382.76v-3.93h1.03v3.93zM355.23 386.37v-2.79h1.03v2.79zM358.47 389.17v-1.97h1.03v1.97zM361.71 395.74v-1.34h1.03v1.34zM363.87 392.66v-1.29h1.03v1.29zM367.11 391.93v-1.06h1.03v1.06zM370.35 390.21v-1.14h1.03v1.14zM373.59 390.17v-1.43h1.03v1.43zM375.75 386.86v-1.07h1.03v1.07zM378.99 379.69v-0.58h1.03v0.58zM382.23 374.88v-0.04h1.03v0.04z" fill="#2f8f48" fill-opacity="1.0"/>
<text transform="translate(48.3,424.3) rotate(-59)" text-anchor="end" font-size="9.3" fill="#858585" dy="3.3">06/03/2020</text>
<text transform="translate(62.33,424.3) rotate(-59)" text-anchor="end" font-size="9.3" fill="#858585" dy="3.3">19/03/2020</text>
<text transform="translate(76.36,424.3) rotate(-59)" text-anchor="end" font-size="9.3" fill="#858585" dy="3.3">01/04/2020</text>
<text transform="translate(90.39,424.3) rotate(-59)" text-anchor="end" font-size="9.3" fill="#858585" dy="3.3">14/04/2020</text>
<text transform="translate(104.42,424.3) rotate(-59)" text-anchor="end" font-size="9.3" fill="#858585" dy="3.3">27/04/2020</text>
<text transform="translate(118.45,424.3) rotate(-59)" text-anchor="end" font-size="9.3" fill="#858585" dy="3.3">10/05/2020</text>
<text transform="translate(132.48,424.3) rotate(-59)" text-anchor="end" font-size="9.3" fill="#858585" dy="3.3">24/05/2020</text>
<text transform="translate(146.51,424.3) rotate(-59)" text-anchor="end" font-size="9.3" fill="#858585" dy="3.3">06/06/2020</text>
<text transform="translate(160.54,424.3) rotate(-59)" text-anchor="end" font-size="9.3" fill="#858585" dy="3.3">19/06/2020</text>
<text transform="translate(174.57,424.3) rotate(-59)" text-anchor="end" font-size="9.3" fill="#858585" dy="3.3">02/07/2020</text>
<text transform="translate(188.6,424.3) rotate(-59)" text-anchor="end" font-size="9.3" fill="#858585" dy="3.3">15/07/2020</text>
<text transform="translate(202.63,424.3) rotate(-59)" text-anchor="end" font-size="9.3" fill="#858585" dy="3.3">28/07/2020</text>
<text transform="translate(216.66,424.3) rotate(-59)" text-anchor="end" font-size="9.3" fill="#858585" dy="3.3">10/08/2020</text>
<text transform="translate(230.69,424.3) rotate(-59)" text-anchor="end" font-size="9.3" fill="#858585" dy="3.3">24/08/2020</text>
<text transform="translate(244.72,424.3) rotate(-59)" text-anchor="end" font-size="9.3" fill="#858585" dy="3.3">06/09/2020</text>
<text transform="translate(258.75,424.3) rotate(-59)" text-anchor="end" font-size="9.3" fill="#858585" dy="3.3">19/09/2020</text>
<text transform="translate(272.78,424.3) rotate(-59)" text-anchor="end" font-size="9.3" fill="#858585" dy="3.3">02/10/2020</text>
<text transform="translate(286.81,424.3) rotate(-59)" text-anchor="end" font-size="9.3" fill="#858585" dy="3.3">15/10/2020</text>
<text transform="translate(300.84,424.3) rotate(-59)" text-anchor="end" font-size="9.3" fill="#858585" dy="3.3">28/10/2020</text>
<text transform="translate(314.87,424.3) rotate(-59)" text-anchor="end" font-size="9.3" fill="#858585" dy="3.3">10/11/2020</text>
<text transform="translate(328.9,424.3) rotate(-59)" text-anchor="end" font-size="9.3" fill="#858585" dy="3.3">23/11/2020</text>
<text transform="translate(342.93,424.3) rotate(-59)" text-anchor="end" font-size="9.3" fill="#858585" dy="3.3">07/12/2020</text>
<text transform="translate(356.96,424.3) rotate(-59)" text-anchor="end" font-size="9.3" fill="#858585" dy="3.3">20/12/2020</text>
<text transform="translate(370.99,424.3) rotate(-59)" text-anchor="end" font-size="9.3" fill="#858585" dy="3.3">02/01/2021</text>
<text transform="translate(385.02,424.3) rotate(-59)" text-anchor="end" font-size="9.3" fill="#858585" dy="3.3">15/01/2021</text>
<text transform="translate(399.05,424.3) rotate(-59)" text-anchor="end" font-size="9.3" fill="#858585" dy="3.3">28/01/2021</text>
<text transform="translate(413.08,424.3) rotate(-59)" text-anchor="end" font-size="9.3" fill="#858585" dy="3.3">10/02/2021</text>
<text transform="translate(427.11,424.3) rotate(-59)" text-anchor="end" font-size="9.3" fill="#858585" dy="3.3">24/02/2021</text>
<text transform="translate(441.14,424.3) rotate(-59)" text-anchor="end" font-size="9.3" fill="#858585" dy="3.3">09/03/2021</text>
<text transform="translate(455.17,424.3) rotate(-59)" text-anchor="end" font-size="9.3" fill="#858585" dy="3.3">22/03/2021</text>
<text transform="translate(469.2,424.3) rotate(-59)" text-anchor="end" font-size="9.3" fill="#858585" dy="3.3">04/04/2021</text>
<text transform="translate(483.23,424.3) rotate(-59)" text-anchor="end" font-size="9.3" fill="#858585" dy="3.3">17/04/2021</text>
<text transform="translate(497.26,424.3) rotate(-59)" text-anchor="end" font-size="9.3" fill="#858585" dy="3.3">30/04/2021</text>
<text transform="translate(511.29,424.3) rotate(-59)" text-anchor="end" font-size="9.3" fill="#858585" dy="3.3">13/05/2021</text>
<text transform="translate(525.32,424.3) rotate(-59)" text-anchor="end" font-size="9.3" fill="#858585" dy="3.3">26/05/2021</text>
<text transform="translate(539.35,424.3) rotate(-59)" text-anchor="end" font-size="9.3" fill="#858585" dy="3.3">08/06/2021</text>
<text transform="translate(553.38,424.3) rotate(-59)" text-anchor="end" font-size="9.3" fill="#858585" dy="3.3">21/06/2021</text>
<text transform="translate(567.41,424.3) rotate(-59)" text-anchor="end" font-size="9.3" fill="#858585" dy="3.3">04/07/2021</text>
<text transform="translate(581.44,424.3) rotate(-59)" text-anchor="end" font-size="9.3" fill="#858585" dy="3.3">17/07/2021</text>
<text x="5" y="506.5" font-size="13.6" fill="#6590c4" textLength="449" lengthAdjust="spacingAndGlyphs" xml:space="preserve">Incidencia acumulada por 100.000 habitantes por 14 días (IA 14d) de Cantabria</text>
<line x1="41.8" x2="582.3" y1="654.2" y2="654.2" stroke="#e4e4e4" stroke-width="1.1"/>
<text x="31" y="657.2" text-anchor="end" font-size="9.3" fill="#858585">0</text>
<line x1="41.8" x2="582.3" y1="624.87" y2="624.87" stroke="#e4e4e4" stroke-width="1.1"/>
<text x="31" y="627.87" text-anchor="end" font-size="9.3" fill="#858585">150</text>
<line x1="41.8" x2="582.3" y1="595.54" y2="595.54" stroke="#e4e4e4" stroke-width="1.1"/>
<text x="31" y="598.54" text-anchor="end" font-size="9.3" fill="#858585">300</text>
<line x1="41.8" x2="582.3" y1="566.21" y2="566.21" stroke="#e4e4e4" stroke-width="1.1"/>
<text x="31" y="569.21" text-anchor="end" font-size="9.3" fill="#858585">450</text>
<line x1="41.8" x2="582.3" y1="536.88" y2="536.88" stroke="#e4e4e4" stroke-width="1.1"/>
<text x="31" y="539.88" text-anchor="end" font-size="9.3" fill="#858585">600</text>
<polyline fill="none" stroke="#8fb3de" stroke-opacity="0.5" stroke-width="1.2" points="40,654.2 41.08,654.2 42.15,654.2 43.23,654.2 44.3,654.2 45.38,654.2 46.45,654.2 47.53,654.2 48.6,654.2 49.68,654.2 50.75,654.2 51.83,654.2 52.9,654.2 53.98,653.89 55.06,653.74 56.13,653.16 57.21,652.74 58.28,652.4 59.36,650.52 60.43,650.2 61.51,647.37 62.58,646.8 63.66,645.39 64.73,642.65 65.81,638.39 66.88,633.51 67.96,633.5 69.04,628.31 70.11,625.16 71.19,621.2 72.26,620.08 73.34,616.89 74.41,615.01 75.49,613.76 76.56,613.43 77.64,614.14 78.71,614.39 79.79,615.3 80.87,617.66 81.94,618.91 83.02,620.73 84.09,625.32 85.17,626.2 86.24,629.68 87.32,630.96 88.39,632.46 89.47,633.62 90.54,634.33 91.62,635.22 92.69,636.06 93.77,637.36 94.85,637.52 95.92,639.16 97,639.26 98.07,640.33 99.15,641.28 100.22,642.21 101.3,642.54 102.37,643.03 103.45,643.88 104.52,644.13 105.6,645.03 106.67,645.81 107.75,646.71 108.83,647.35 109.9,647.81 110.98,648.17 112.05,648.67 113.13,649.1 114.2,649.9 115.28,650.25 116.35,650.71 117.43,650.89 118.5,651.44 119.58,651.85 120.65,652.09 121.73,652.25 122.81,652.65 123.88,652.94 124.96,652.98 126.03,653.1 127.11,653.24 128.18,653.42 129.26,653.44 130.33,653.44 131.41,653.46 132.48,653.48 133.56,653.5 134.63,653.52 135.71,653.53 136.79,653.56 137.86,653.57 138.94,653.6 140.01,653.62 141.09,653.62 142.16,653.64 143.24,653.64 144.31,653.65 145.39,653.67 146.46,653.68 147.54,653.69 148.62,653.7 149.69,653.7 150.77,653.72 151.84,653.72 152.92,653.74 153.99,653.75 155.07,653.76 156.14,653.77 157.22,653.78 158.29,653.79 159.37,653.8 160.44,653.79 161.52,653.77 162.6,653.75 163.67,653.71 164.75,653.69 165.82,653.65 166.9,653.62 167.97,653.6 169.05,653.57 170.12,653.54 171.2,653.52 172.27,653.5 173.35,653.45 174.42,653.42 175.5,653.36 176.58,653.28 177.65,653.18 178.73,653.11 179.8,653.03 180.88,652.98 181.95,652.92 183.03,652.84 184.1,652.81 185.18,652.72 186.25,652.63 187.33,652.57 188.4,652.52 189.48,652.48 190.56,652.31 191.63,652.09 192.71,651.84 193.78,651.67 194.86,651.4 195.93,651.14 197.01,651.09 198.08,650.77 199.16,650.53 200.23,650.32 201.31,649.84 202.38,649.2 203.46,649.18 204.54,648.52 205.61,648.26 206.69,647.55 207.76,646.77 208.84,646.38 209.91,645.99 210.99,644.98 212.06,644.33 213.14,643.45 214.21,642.52 215.29,641.2 216.37,639.8 217.44,638.99 218.52,637.96 219.59,636.28 220.67,636.03 221.74,634.57 222.82,633.88 223.89,632.53 224.97,632.19 226.04,630.15 227.12,629.73 228.19,628.92 229.27,627.48 230.35,626.16 231.42,625.45 232.5,623.89 233.57,622.83 234.65,621.48 235.72,620.8 236.8,619.85 237.87,618.84 238.95,616.92 240.02,615.37 241.1,614.62 242.17,613.74 243.25,611.68 244.33,610.91 245.4,609.77 246.48,608.49 247.55,606.16 248.63,604.81 249.7,604.2 250.78,603.57 251.85,602.76 252.93,602.26 254,602.36 255.08,602.55 256.15,603.2 257.23,603.9 258.31,605.81 259.38,607.05 260.46,608.63 261.53,611.51 262.61,613.08 263.68,617.86 264.76,619.27 265.83,622.11 266.91,622.82 267.98,624.78 269.06,626.11 270.13,627.27 271.21,628.02 272.29,628.82 273.36,630.42 274.44,630.63 275.51,630.99 276.59,631.39 277.66,631.84 278.74,632.1 279.81,632.1 280.89,632.1 281.96,632.1 283.04,631.89 284.12,630.89 285.19,630.7 286.27,628.76 287.34,626.85 288.42,625.01 289.49,624.29 290.57,619.88 291.64,617.25 292.72,616.03 293.79,612.68 294.87,605.7 295.94,602.82 297.02,600.26 298.1,596.55 299.17,592.92 300.25,589.55 301.32,584.86 302.4,583.24 303.47,580.93 304.55,576.35 305.62,574.44 306.7,573.66 307.77,569.9 308.85,568.36 309.92,565.82 311,563.91 312.08,561.46 313.15,559.74 314.23,557.71 315.3,557.04 316.38,554.77 317.45,553.57 318.53,551.82 319.6,550.89 320.68,548.98 321.75,548.11 322.83,547.18 323.9,548.17 324.98,550.58 326.06,554.27 327.13,556.56 328.21,562.4 329.28,564.96 330.36,569.94 331.43,573.65 332.51,577.33 333.58,581.99 334.66,582.43 335.73,587.83 336.81,589.52 337.88,592.51 338.96,594.53 340.04,596.25 341.11,597.02 342.19,598.54 343.26,600.78 344.34,600.91 345.41,603.12 346.49,604.52 347.56,605.05 348.64,607.51 349.71,609.35 350.79,611.5 351.87,612.16 352.94,615.71 354.02,616.83 355.09,618.93 356.17,620.49 357.24,620.57 358.32,621.74 359.39,622.36 360.47,622.84 361.54,623.1 362.62,623.16 363.69,623.31 364.77,623.44 365.85,623.19 366.92,623.02 368,622.53 369.07,622.14 370.15,619.77 371.22,617.08 372.3,616.13 373.37,612.82 374.45,611.6 375.52,609.22 376.6,607.57 377.67,604.82 378.75,601.54 379.83,600.05 380.9,597.65 381.98,596.54 383.05,594.46 384.13,592.4 385.2,589.68 386.28,587.47 387.35,585.08 388.43,584.62 389.5,581.35 390.58,579.11 391.65,578.57 392.73,578.16 393.81,577.12 394.88,576.54 395.96,576.28 397.03,576.5 398.11,576.59 399.18,576.73 400.26,577.32 401.33,578.09 402.41,578.56 403.48,579.55 404.56,581.8 405.63,584.17 406.71,586.17 407.79,589.08 408.86,590.52 409.94,594.57 411.01,596.71 412.09,599.99 413.16,600.8 414.24,603.5 415.31,605.54 416.39,609.33 417.46,611.79 418.54,612.88 419.62,613.65 420.69,615.25 421.77,616.31 422.84,617.15 423.92,617.88 424.99,618.98 426.07,620.16 427.14,621.1 428.22,622.28 429.29,623.61 430.37,625.03 431.44,625.14 432.52,626.8 433.6,627.28 434.67,628.12 435.75,629.43 436.82,630.02 437.9,631.01 438.97,631.35 440.05,631.72 441.12,632.62 442.2,633.42 443.27,634.3 444.35,634.62 445.42,634.72 446.5,634.92 447.58,635.06 448.65,635.39 449.73,635.51 450.8,635.5 451.88,635.23 452.95,634.91 454.03,634.37 455.1,634.23 456.18,633.64 457.25,633.6 458.33,632.8 459.4,632.65 460.48,632.1 461.56,631.03 462.63,630.71 463.71,629.78 464.78,629.51 465.86,628.98 466.93,627.76 468.01,627.08 469.08,626.26 470.16,625.63 471.23,625.39 472.31,624.27 473.38,623.49 474.46,622.81 475.54,621.47 476.61,621.19 477.69,619.63 478.76,618.96 479.84,618.7 480.91,617.8 481.99,616.07 483.06,614.55 484.14,614.23 485.21,612.63 486.29,610.79 487.37,610.24 488.44,608.41 489.52,607.92 490.59,607.48 491.67,606.43 492.74,605.47 493.82,604.88 494.89,604.15 495.97,603.89 497.04,602.92 498.12,602.6 499.19,603.44 500.27,604.11 501.35,604.65 502.42,605.64 503.5,608.31 504.57,610.55 505.65,612.75 506.72,614.79 507.8,616.68 508.87,618.59 509.95,622.66 511.02,624.18 512.1,626.26 513.17,627.11 514.25,629.33 515.33,631.51 516.4,632.2 517.48,632.82 518.55,633.38 519.63,634.29 520.7,635.32 521.78,635.46 522.85,635.85 523.93,636.12 525,636.5 526.08,636.76 527.15,636.9 528.23,637.11 529.31,637.43 530.38,637.58 531.46,637.74 532.53,637.9 533.61,638.04 534.68,638.06 535.76,638.3 536.83,638.56 537.91,638.94 538.98,639.19 540.06,639.44 541.13,640.02 542.21,640.36 543.29,640.71 544.36,641.24 545.44,641.42 546.51,641.73 547.59,642.36 548.66,642.18 549.74,641.83 550.81,640.33 551.89,637.74 552.96,637.12 554.04,633.85 555.12,630.99 556.19,628.9 557.27,626.95 558.34,624.17 559.42,620.16 560.49,617.39 561.57,615.61 562.64,613.5 563.72,607.05 564.79,602.54 565.87,600.56 566.94,595.18 568.02,589.88 569.1,585.84 570.17,583.06 571.25,578.83 572.32,573.58 573.4,570.8 574.47,566.08 575.55,561.43 576.62,554.77 577.7,551.96 578.77,547.73 579.85,544.89 580.92,541.35 582,538.25"/>
<g fill="#558acb" fill-opacity="0.97" stroke="#fff" stroke-opacity="0.97" stroke-width="1.0">
<circle cx="40" cy="654.2" r="3.1"/>
<circle cx="41.08" cy="654.2" r="3.1"/>
<circle cx="42.15" cy="654.2" r="3.1"/>
<circle cx="43.23" cy="654.2" r="3.1"/>
<circle cx="44.3" cy="654.2" r="3.1"/>
<circle cx="45.38" cy="654.2" r="3.1"/>
<circle cx="46.45" cy="654.2" r="3.1"/>
<circle cx="47.53" cy="654.2" r="3.1"/>
<circle cx="48.6" cy="654.2" r="3.1"/>
<circle cx="49.68" cy="654.2" r="3.1"/>
<circle cx="50.75" cy="654.2" r="3.1"/>
<circle cx="51.83" cy="654.2" r="3.1"/>
<circle cx="52.9" cy="654.2" r="3.1"/>
<circle cx="53.98" cy="653.89" r="3.1"/>
<circle cx="55.06" cy="653.74" r="3.1"/>
<circle cx="56.13" cy="653.16" r="3.1"/>
<circle cx="57.21" cy="652.74" r="3.1"/>
<circle cx="58.28" cy="652.4" r="3.1"/>
<circle cx="59.36" cy="650.52" r="3.1"/>
<circle cx="60.43" cy="650.2" r="3.1"/>
<circle cx="61.51" cy="647.37" r="3.1"/>
<circle cx="62.58" cy="646.8" r="3.1"/>
<circle cx="63.66" cy="645.39" r="3.1"/>
<circle cx="64.73" cy="642.65" r="3.1"/>
<circle cx="65.81" cy="638.39" r="3.1"/>
<circle cx="66.88" cy="633.51" r="3.1"/>
<circle cx="67.96" cy="633.5" r="3.1"/>
<circle cx="69.04" cy="628.31" r="3.1"/>
<circle cx="70.11" cy="625.16" r="3.1"/>
<circle cx="71.19" cy="621.2" r="3.1"/>
<circle cx="72.26" cy="620.08" r="3.1"/>
<circle cx="73.34" cy="616.89" r="3.1"/>
<circle cx="74.41" cy="615.01" r="3.1"/>
<circle cx="75.49" cy="613.76" r="3.1"/>
<circle cx="76.56" cy="613.43" r="3.1"/>
<circle cx="77.64" cy="614.14" r="3.1"/>
<circle cx="78.71" cy="614.39" r="3.1"/>
<circle cx="79.79" cy="615.3" r="3.1"/>
<circle cx="80.87" cy="617.66" r="3.1"/>
<circle cx="81.94" cy="618.91" r="3.1"/>
<circle cx="83.02" cy="620.73" r="3.1"/>
<circle cx="84.09" cy="625.32" r="3.1"/>
<circle cx="85.17" cy="626.2" r="3.1"/>
<circle cx="86.24" cy="629.68" r="3.1"/>
<circle cx="87.32" cy="630.96" r="3.1"/>
<circle cx="88.39" cy="632.46" r="3.1"/>
<circle cx="89.47" cy="633.62" r="3.1"/>
<circle cx="90.54" cy="634.33" r="3.1"/>
<circle cx="91.62" cy="635.22" r="3.1"/>
<circle cx="92.69" cy="636.06" r="3.1"/>
<circle cx="93.77" cy="637.36" r="3.1"/>
<circle cx="94.85" cy="637.52" r="3.1"/>
<circle cx="95.92" cy="639.16" r="3.1"/>
<circle cx="97" cy="639.26" r="3.1"/>
<circle cx="98.07" cy="640.33" r="3.1"/>
<circle cx="99.15" cy="641.28" r="3.1"/>
<circle cx="100.22" cy="642.21" r="3.1"/>
<circle cx="101.3" cy="642.54" r="3.1"/>
<circle cx="102.37" cy="643.03" r="3.1"/>
<circle cx="103.45" cy="643.88" r="3.1"/>
<circle cx="104.52" cy="644.13" r="3.1"/>
<circle cx="105.6" cy="645.03" r="3.1"/>
<circle cx="106.67" cy="645.81" r="3.1"/>
<circle cx="107.75" cy="646.71" r="3.1"/>
<circle cx="108.83" cy="647.35" r="3.1"/>
<circle cx="109.9" cy="647.81" r="3.1"/>
<circle cx="110.98" cy="648.17" r="3.1"/>
<circle cx="112.05" cy="648.67" r="3.1"/>
<circle cx="113.13" cy="649.1" r="3.1"/>
<circle cx="114.2" cy="649.9" r="3.1"/>
<circle cx="115.28" cy="650.25" r="3.1"/>
<circle cx="116.35" cy="650.71" r="3.1"/>
<circle cx="117.43" cy="650.89" r="3.1"/>
<circle cx="118.5" cy="651.44" r="3.1"/>
<circle cx="119.58" cy="651.85" r="3.1"/>
<circle cx="120.65" cy="652.09" r="3.1"/>
<circle cx="121.73" cy="652.25" r="3.1"/>
<circle cx="122.81" cy="652.65" r="3.1"/>
<circle cx="123.88" cy="652.94" r="3.1"/>
<circle cx="124.96" cy="652.98" r="3.1"/>
<circle cx="126.03" cy="653.1" r="3.1"/>
<circle cx="127.11" cy="653.24" r="3.1"/>
<circle cx="128.18" cy="653.42" r="3.1"/>
<circle cx="129.26" cy="653.44" r="3.1"/>
<circle cx="130.33" cy="653.44" r="3.1"/>
<circle cx="131.41" cy="653.46" r="3.1"/>
<circle cx="132.48" cy="653.48" r="3.1"/>
<circle cx="133.56" cy="653.5" r="3.1"/>
<circle cx="134.63" cy="653.52" r="3.1"/>
<circle cx="135.71" cy="653.53" r="3.1"/>
<circle cx="136.79" cy="653.56" r="3.1"/>
<circle cx="137.86" cy="653.57" r="3.1"/>
<circle cx="138.94" cy="653.6" r="3.1"/>
<circle cx="140.01" cy="653.62" r="3.1"/>
<circle cx="141.09" cy="653.62" r="3.1"/>
<circle cx="142.16" cy="653.64" r="3.1"/>
<circle cx="143.24" cy="653.64" r="3.1"/>
<circle cx="144.31" cy="653.65" r="3.1"/>
<circle cx="145.39" cy="653.67" r="3.1"/>
<circle cx="146.46" cy="653.68" r="3.1"/>
<circle cx="147.54" cy="653.69" r="3.1"/>
<circle cx="148.62" cy="653.7" r="3.1"/>
<circle cx="149.69" cy="653.7" r="3.1"/>
<circle cx="150.77" cy="653.72" r="3.1"/>
<circle cx="151.84" cy="653.72" r="3.1"/>
<circle cx="152.92" cy="653.74" r="3.1"/>
<circle cx="153.99" cy="653.75" r="3.1"/>
<circle cx="155.07" cy="653.76" r="3.1"/>
<circle cx="156.14" cy="653.77" r="3.1"/>
<circle cx="157.22" cy="653.78" r="3.1"/>
<circle cx="158.29" cy="653.79" r="3.1"/>
<circle cx="159.37" cy="653.8" r="3.1"/>
<circle cx="160.44" cy="653.79" r="3.1"/>
<circle cx="161.52" cy="653.77" r="3.1"/>
<circle cx="162.6" cy="653.75" r="3.1"/>
<circle cx="163.67" cy="653.71" r="3.1"/>
<circle cx="164.75" cy="653.69" r="3.1"/>
<circle cx="165.82" cy="653.65" r="3.1"/>
<circle cx="166.9" cy="653.62" r="3.1"/>
<circle cx="167.97" cy="653.6" r="3.1"/>
<circle cx="169.05" cy="653.57" r="3.1"/>
<circle cx="170.12" cy="653.54" r="3.1"/>
<circle cx="171.2" cy="653.52" r="3.1"/>
<circle cx="172.27" cy="653.5" r="3.1"/>
<circle cx="173.35" cy="653.45" r="3.1"/>
<circle cx="174.42" cy="653.42" r="3.1"/>
<circle cx="175.5" cy="653.36" r="3.1"/>
<circle cx="176.58" cy="653.28" r="3.1"/>
<circle cx="177.65" cy="653.18" r="3.1"/>
<circle cx="178.73" cy="653.11" r="3.1"/>
<circle cx="179.8" cy="653.03" r="3.1"/>
<circle cx="180.88" cy="652.98" r="3.1"/>
<circle cx="181.95" cy="652.92" r="3.1"/>
<circle cx="183.03" cy="652.84" r="3.1"/>
<circle cx="184.1" cy="652.81" r="3.1"/>
<circle cx="185.18" cy="652.72" r="3.1"/>
<circle cx="186.25" cy="652.63" r="3.1"/>
<circle cx="187.33" cy="652.57" r="3.1"/>
<circle cx="188.4" cy="652.52" r="3.1"/>
<circle cx="189.48" cy="652.48" r="3.1"/>
<circle cx="190.56" cy="652.31" r="3.1"/>
<circle cx="191.63" cy="652.09" r="3.1"/>
<circle cx="192.71" cy="651.84" r="3.1"/>
<circle cx="193.78" cy="651.67" r="3.1"/>
<circle cx="194.86" cy="651.4" r="3.1"/>
<circle cx="195.93" cy="651.14" r="3.1"/>
<circle cx="197.01" cy="651.09" r="3.1"/>
<circle cx="198.08" cy="650.77" r="3.1"/>
<circle cx="199.16" cy="650.53" r="3.1"/>
<circle cx="200.23" cy="650.32" r="3.1"/>
<circle cx="201.31" cy="649.84" r="3.1"/>
<circle cx="202.38" cy="649.2" r="3.1"/>
<circle cx="203.46" cy="649.18" r="3.1"/>
<circle cx="204.54" cy="648.52" r="3.1"/>
<circle cx="205.61" cy="648.26" r="3.1"/>
<circle cx="206.69" cy="647.55" r="3.1"/>
<circle cx="207.76" cy="646.77" r="3.1"/>
<circle cx="208.84" cy="646.38" r="3.1"/>
<circle cx="209.91" cy="645.99" r="3.1"/>
<circle cx="210.99" cy="644.98" r="3.1"/>
<circle cx="212.06" cy="644.33" r="3.1"/>
<circle cx="213.14" cy="643.45" r="3.1"/>
<circle cx="214.21" cy="642.52" r="3.1"/>
<circle cx="215.29" cy="641.2" r="3.1"/>
<circle cx="216.37" cy="639.8" r="3.1"/>
<circle cx="217.44" cy="638.99" r="3.1"/>
<circle cx="218.52" cy="637.96" r="3.1"/>
<circle cx="219.59" cy="636.28" r="3.1"/>
<circle cx="220.67" cy="636.03" r="3.1"/>
<circle cx="221.74" cy="634.57" r="3.1"/>
<circle cx="222.82" cy="633.88" r="3.1"/>
<circle cx="223.89" cy="632.53" r="3.1"/>
<circle cx="224.97" cy="632.19" r="3.1"/>
<circle cx="226.04" cy="630.15" r="3.1"/>
<circle cx="227.12" cy="629.73" r="3.1"/>
<circle cx="228.19" cy="628.92" r="3.1"/>
<circle cx="229.27" cy="627.48" r="3.1"/>
<circle cx="230.35" cy="626.16" r="3.1"/>
<circle cx="231.42" cy="625.45" r="3.1"/>
<circle cx="232.5" cy="623.89" r="3.1"/>
<circle cx="233.57" cy="622.83" r="3.1"/>
<circle cx="234.65" cy="621.48" r="3.1"/>
<circle cx="235.72" cy="620.8" r="3.1"/>
<circle cx="236.8" cy="619.85" r="3.1"/>
<circle cx="237.87" cy="618.84" r="3.1"/>
<circle cx="238.95" cy="616.92" r="3.1"/>
<circle cx="240.02" cy="615.37" r="3.1"/>
<circle cx="241.1" cy="614.62" r="3.1"/>
<circle cx="242.17" cy="613.74" r="3.1"/>
<circle cx="243.25" cy="611.68" r="3.1"/>
<circle cx="244.33" cy="610.91" r="3.1"/>
<circle cx="245.4" cy="609.77" r="3.1"/>
<circle cx="246.48" cy="608.49" r="3.1"/>
<circle cx="247.55" cy="606.16" r="3.1"/>
<circle cx="248.63" cy="604.81" r="3.1"/>
<circle cx="249.7" cy="604.2" r="3.1"/>
<circle cx="250.78" cy="603.57" r="3.1"/>
<circle cx="251.85" cy="602.76" r="3.1"/>
<circle cx="252.93" cy="602.26" r="3.1"/>
<circle cx="254" cy="602.36" r="3.1"/>
<circle cx="255.08" cy="602.55" r="3.1"/>
<circle cx="256.15" cy="603.2" r="3.1"/>
<circle cx="257.23" cy="603.9" r="3.1"/>
<circle cx="258.31" cy="605.81" r="3.1"/>
<circle cx="259.38" cy="607.05" r="3.1"/>
<circle cx="260.46" cy="608.63" r="3.1"/>
<circle cx="261.53" cy="611.51" r="3.1"/>
<circle cx="262.61" cy="613.08" r="3.1"/>
<circle cx="263.68" cy="617.86" r="3.1"/>
<circle cx="264.76" cy="619.27" r="3.1"/>
<circle cx="265.83" cy="622.11" r="3.1"/>
<circle cx="266.91" cy="622.82" r="3.1"/>
<circle cx="267.98" cy="624.78" r="3.1"/>
<circle cx="269.06" cy="626.11" r="3.1"/>
<circle cx="270.13" cy="627.27" r="3.1"/>
<circle cx="271.21" cy="628.02" r="3.1"/>
<circle cx="272.29" cy="628.82" r="3.1"/>
<circle cx="273.36" cy="630.42" r="3.1"/>
<circle cx="274.44" cy="630.63" r="3.1"/>
<circle cx="275.51" cy="630.99" r="3.1"/>
<circle cx="276.59" cy="631.39" r="3.1"/>
<circle cx="277.66" cy="631.84" r="3.1"/>
<circle cx="278.74" cy="632.1" r="3.1"/>
<circle cx="279.81" cy="632.1" r="3.1"/>
<circle cx="280.89" cy="632.1" r="3.1"/>
<circle cx="281.96" cy="632.1" r="3.1"/>
<circle cx="283.04" cy="631.89" r="3.1"/>
<circle cx="284.12" cy="630.89" r="3.1"/>
<circle cx="285.19" cy="630.7" r="3.1"/>
<circle cx="286.27" cy="628.76" r="3.1"/>
<circle cx="287.34" cy="626.85" r="3.1"/>
<circle cx="288.42" cy="625.01" r="3.1"/>
<circle cx="289.49" cy="624.29" r="3.1"/>
<circle cx="290.57" cy="619.88" r="3.1"/>
<circle cx="291.64" cy="617.25" r="3.1"/>
<circle cx="292.72" cy="616.03" r="3.1"/>
<circle cx="293.79" cy="612.68" r="3.1"/>
<circle cx="294.87" cy="605.7" r="3.1"/>
<circle cx="295.94" cy="602.82" r="3.1"/>
<circle cx="297.02" cy="600.26" r="3.1"/>
<circle cx="298.1" cy="596.55" r="3.1"/>
<circle cx="299.17" cy="592.92" r="3.1"/>
<circle cx="300.25" cy="589.55" r="3.1"/>
<circle cx="301.32" cy="584.86" r="3.1"/>
<circle cx="302.4" cy="583.24" r="3.1"/>
<circle cx="303.47" cy="580.93" r="3.1"/>
<circle cx="304.55" cy="576.35" r="3.1"/>
<circle cx="305.62" cy="574.44" r="3.1"/>
<circle cx="306.7" cy="573.66" r="3.1"/>
<circle cx="307.77" cy="569.9" r="3.1"/>
<circle cx="308.85" cy="568.36" r="3.1"/>
<circle cx="309.92" cy="565.82" r="3.1"/>
<circle cx="311" cy="563.91" r="3.1"/>
<circle cx="312.08" cy="561.46" r="3.1"/>
<circle cx="313.15" cy="559.74" r="3.1"/>
<circle cx="314.23" cy="557.71" r="3.1"/>
<circle cx="315.3" cy="557.04" r="3.1"/>
<circle cx="316.38" cy="554.77" r="3.1"/>
<circle cx="317.45" cy="553.57" r="3.1"/>
<circle cx="318.53" cy="551.82" r="3.1"/>
<circle cx="319.6" cy="550.89" r="3.1"/>
<circle cx="320.68" cy="548.98" r="3.1"/>
<circle cx="321.75" cy="548.11" r="3.1"/>
<circle cx="322.83" cy="547.18" r="3.1"/>
<circle cx="323.9" cy="548.17" r="3.1"/>
<circle cx="324.98" cy="550.58" r="3.1"/>
<circle cx="326.06" cy="554.27" r="3.1"/>
<circle cx="327.13" cy="556.56" r="3.1"/>
<circle cx="328.21" cy="562.4" r="3.1"/>
<circle cx="329.28" cy="564.96" r="3.1"/>
<circle cx="330.36" cy="569.94" r="3.1"/>
<circle cx="331.43" cy="573.65" r="3.1"/>
<circle cx="332.51" cy="577.33" r="3.1"/>
<circle cx="333.58" cy="581.99" r="3.1"/>
<circle cx="334.66" cy="582.43" r="3.1"/>
<circle cx="335.73" cy="587.83" r="3.1"/>
<circle cx="336.81" cy="589.52" r="3.1"/>
<circle cx="337.88" cy="592.51" r="3.1"/>
<circle cx="338.96" cy="594.53" r="3.1"/>
<circle cx="340.04" cy="596.25" r="3.1"/>
<circle cx="341.11" cy="597.02" r="3.1"/>
<circle cx="342.19" cy="598.54" r="3.1"/>
<circle cx="343.26" cy="600.78" r="3.1"/>
<circle cx="344.34" cy="600.91" r="3.1"/>
<circle cx="345.41" cy="603.12" r="3.1"/>
<circle cx="346.49" cy="604.52" r="3.1"/>
<circle cx="347.56" cy="605.05" r="3.1"/>
<circle cx="348.64" cy="607.51" r="3.1"/>
<circle cx="349.71" cy="609.35" r="3.1"/>
<circle cx="350.79" cy="611.5" r="3.1"/>
<circle cx="351.87" cy="612.16" r="3.1"/>
<circle cx="352.94" cy="615.71" r="3.1"/>
<circle cx="354.02" cy="616.83" r="3.1"/>
<circle cx="355.09" cy="618.93" r="3.1"/>
<circle cx="356.17" cy="620.49" r="3.1"/>
<circle cx="357.24" cy="620.57" r="3.1"/>
<circle cx="358.32" cy="621.74" r="3.1"/>
<circle cx="359.39" cy="622.36" r="3.1"/>
<circle cx="360.47" cy="622.84" r="3.1"/>
<circle cx="361.54" cy="623.1" r="3.1"/>
<circle cx="362.62" cy="623.16" r="3.1"/>
<circle cx="363.69" cy="623.31" r="3.1"/>
<circle cx="364.77" cy="623.44" r="3.1"/>
<circle cx="365.85" cy="623.19" r="3.1"/>
<circle cx="366.92" cy="623.02" r="3.1"/>
<circle cx="368" cy="622.53" r="3.1"/>
<circle cx="369.07" cy="622.14" r="3.1"/>
<circle cx="370.15" cy="619.77" r="3.1"/>
<circle cx="371.22" cy="617.08" r="3.1"/>
<circle cx="372.3" cy="616.13" r="3.1"/>
<circle cx="373.37" cy="612.82" r="3.1"/>
<circle cx="374.45" cy="611.6" r="3.1"/>
<circle cx="375.52" cy="609.22" r="3.1"/>
<circle cx="376.6" cy="607.57" r="3.1"/>
<circle cx="377.67" cy="604.82" r="3.1"/>
<circle cx="378.75" cy="601.54" r="3.1"/>
<circle cx="379.83" cy="600.05" r="3.1"/>
<circle cx="380.9" cy="597.65" r="3.1"/>
<circle cx="381.98" cy="596.54" r="3.1"/>
<circle cx="383.05" cy="594.46" r="3.1"/>
<circle cx="384.13" cy="592.4" r="3.1"/>
<circle cx="385.2" cy="589.68" r="3.1"/>
<circle cx="386.28" cy="587.47" r="3.1"/>
<circle cx="387.35" cy="585.08" r="3.1"/>
<circle cx="388.43" cy="584.62" r="3.1"/>
<circle cx="389.5" cy="581.35" r="3.1"/>
<circle cx="390.58" cy="579.11" r="3.1"/>
<circle cx="391.65" cy="578.57" r="3.1"/>
<circle cx="392.73" cy="578.16" r="3.1"/>
<circle cx="393.81" cy="577.12" r="3.1"/>
<circle cx="394.88" cy="576.54" r="3.1"/>
<circle cx="395.96" cy="576.28" r="3.1"/>
<circle cx="397.03" cy="576.5" r="3.1"/>
<circle cx="398.11" cy="576.59" r="3.1"/>
<circle cx="399.18" cy="576.73" r="3.1"/>
<circle cx="400.26" cy="577.32" r="3.1"/>
<circle cx="401.33" cy="578.09" r="3.1"/>
<circle cx="402.41" cy="578.56" r="3.1"/>
<circle cx="403.48" cy="579.55" r="3.1"/>
<circle cx="404.56" cy="581.8" r="3.1"/>
<circle cx="405.63" cy="584.17" r="3.1"/>
<circle cx="406.71" cy="586.17" r="3.1"/>
<circle cx="407.79" cy="589.08" r="3.1"/>
<circle cx="408.86" cy="590.52" r="3.1"/>
<circle cx="409.94" cy="594.57" r="3.1"/>
<circle cx="411.01" cy="596.71" r="3.1"/>
<circle cx="412.09" cy="599.99" r="3.1"/>
<circle cx="413.16" cy="600.8" r="3.1"/>
<circle cx="414.24" cy="603.5" r="3.1"/>
<circle cx="415.31" cy="605.54" r="3.1"/>
<circle cx="416.39" cy="609.33" r="3.1"/>
<circle cx="417.46" cy="611.79" r="3.1"/>
<circle cx="418.54" cy="612.88" r="3.1"/>
<circle cx="419.62" cy="613.65" r="3.1"/>
<circle cx="420.69" cy="615.25" r="3.1"/>
<circle cx="421.77" cy="616.31" r="3.1"/>
<circle cx="422.84" cy="617.15" r="3.1"/>
<circle cx="423.92" cy="617.88" r="3.1"/>
<circle cx="424.99" cy="618.98" r="3.1"/>
<circle cx="426.07" cy="620.16" r="3.1"/>
<circle cx="427.14" cy="621.1" r="3.1"/>
<circle cx="428.22" cy="622.28" r="3.1"/>
<circle cx="429.29" cy="623.61" r="3.1"/>
<circle cx="430.37" cy="625.03" r="3.1"/>
<circle cx="431.44" cy="625.14" r="3.1"/>
<circle cx="432.52" cy="626.8" r="3.1"/>
<circle cx="433.6" cy="627.28" r="3.1"/>
<circle cx="434.67" cy="628.12" r="3.1"/>
<circle cx="435.75" cy="629.43" r="3.1"/>
<circle cx="436.82" cy="630.02" r="3.1"/>
<circle cx="437.9" cy="631.01" r="3.1"/>
<circle cx="438.97" cy="631.35" r="3.1"/>
<circle cx="440.05" cy="631.72" r="3.1"/>
<circle cx="441.12" cy="632.62" r="3.1"/>
<circle cx="442.2" cy="633.42" r="3.1"/>
<circle cx="443.27" cy="634.3" r="3.1"/>
<circle cx="444.35" cy="634.62" r="3.1"/>
<circle cx="445.42" cy="634.72" r="3.1"/>
<circle cx="446.5" cy="634.92" r="3.1"/>
<circle cx="447.58" cy="635.06" r="3.1"/>
<circle cx="448.65" cy="635.39" r="3.1"/>
<circle cx="449.73" cy="635.51" r="3.1"/>
<circle cx="450.8" cy="635.5" r="3.1"/>
<circle cx="451.88" cy="635.23" r="3.1"/>
<circle cx="452.95" cy="634.91" r="3.1"/>
<circle cx="454.03" cy="634.37" r="3.1"/>
<circle cx="455.1" cy="634.23" r="3.1"/>
<circle cx="456.18" cy="633.64" r="3.1"/>
<circle cx="457.25" cy="633.6" r="3.1"/>
<circle cx="458.33" cy="632.8" r="3.1"/>
<circle cx="459.4" cy="632.65" r="3.1"/>
<circle cx="460.48" cy="632.1" r="3.1"/>
<circle cx="461.56" cy="631.03" r="3.1"/>
<circle cx="462.63" cy="630.71" r="3.1"/>
<circle cx="463.71" cy="629.78" r="3.1"/>
<circle cx="464.78" cy="629.51" r="3.1"/>
<circle cx="465.86" cy="628.98" r="3.1"/>
<circle cx="466.93" cy="627.76" r="3.1"/>
<circle cx="468.01" cy="627.08" r="3.1"/>
<circle cx="469.08" cy="626.26" r="3.1"/>
<circle cx="470.16" cy="625.63" r="3.1"/>
<circle cx="471.23" cy="625.39" r="3.1"/>
<circle cx="472.31" cy="624.27" r="3.1"/>
<circle cx="473.38" cy="623.49" r="3.1"/>
<circle cx="474.46" cy="622.81" r="3.1"/>
<circle cx="475.54" cy="621.47" r="3.1"/>
<circle cx="476.61" cy="621.19" r="3.1"/>
<circle cx="477.69" cy="619.63" r="3.1"/>
<circle cx="478.76" cy="618.96" r="3.1"/>
<circle cx="479.84" cy="618.7" r="3.1"/>
<circle cx="480.91" cy="617.8" r="3.1"/>
<circle cx="481.99" cy="616.07" r="3.1"/>
<circle cx="483.06" cy="614.55" r="3.1"/>
<circle cx="484.14" cy="614.23" r="3.1"/>
<circle cx="485.21" cy="612.63" r="3.1"/>
<circle cx="486.29" cy="610.79" r="3.1"/>
<circle cx="487.37" cy="610.24" r="3.1"/>
<circle cx="488.44" cy="608.41" r="3.1"/>
<circle cx="489.52" cy="607.92" r="3.1"/>
<circle cx="490.59" cy="607.48" r="3.1"/>
<circle cx="491.67" cy="606.43" r="3.1"/>
<circle cx="492.74" cy="605.47" r="3.1"/>
<circle cx="493.82" cy="604.88" r="3.1"/>
<circle cx="494.89" cy="604.15" r="3.1"/>
<circle cx="495.97" cy="603.89" r="3.1"/>
<circle cx="497.04" cy="602.92" r="3.1"/>
<circle cx="498.12" cy="602.6" r="3.1"/>
<circle cx="499.19" cy="603.44" r="3.1"/>
<circle cx="500.27" cy="604.11" r="3.1"/>
<circle cx="501.35" cy="604.65" r="3.1"/>
<circle cx="502.42" cy="605.64" r="3.1"/>
<circle cx="503.5" cy="608.31" r="3.1"/>
<circle cx="504.57" cy="610.55" r="3.1"/>
<circle cx="505.65" cy="612.75" r="3.1"/>
<circle cx="506.72" cy="614.79" r="3.1"/>
<circle cx="507.8" cy="616.68" r="3.1"/>
<circle cx="508.87" cy="618.59" r="3.1"/>
<circle cx="509.95" cy="622.66" r="3.1"/>
<circle cx="511.02" cy="624.18" r="3.1"/>
<circle cx="512.1" cy="626.26" r="3.1"/>
<circle cx="513.17" cy="627.11" r="3.1"/>
<circle cx="514.25" cy="629.33" r="3.1"/>
<circle cx="515.33" cy="631.51" r="3.1"/>
<circle cx="516.4" cy="632.2" r="3.1"/>
<circle cx="517.48" cy="632.82" r="3.1"/>
<circle cx="518.55" cy="633.38" r="3.1"/>
<circle cx="519.63" cy="634.29" r="3.1"/>
<circle cx="520.7" cy="635.32" r="3.1"/>
<circle cx="521.78" cy="635.46" r="3.1"/>
<circle cx="522.85" cy="635.85" r="3.1"/>
<circle cx="523.93" cy="636.12" r="3.1"/>
<circle cx="525" cy="636.5" r="3.1"/>
<circle cx="526.08" cy="636.76" r="3.1"/>
<circle cx="527.15" cy="636.9" r="3.1"/>
<circle cx="528.23" cy="637.11" r="3.1"/>
<circle cx="529.31" cy="637.43" r="3.1"/>
<circle cx="530.38" cy="637.58" r="3.1"/>
<circle cx="531.46" cy="637.74" r="3.1"/>
<circle cx="532.53" cy="637.9" r="3.1"/>
<circle cx="533.61" cy="638.04" r="3.1"/>
<circle cx="534.68" cy="638.06" r="3.1"/>
<circle cx="535.76" cy="638.3" r="3.1"/>
<circle cx="536.83" cy="638.56" r="3.1"/>
<circle cx="537.91" cy="638.94" r="3.1"/>
<circle cx="538.98" cy="639.19" r="3.1"/>
<circle cx="540.06" cy="639.44" r="3.1"/>
<circle cx="541.13" cy="640.02" r="3.1"/>
<circle cx="542.21" cy="640.36" r="3.1"/>
<circle cx="543.29" cy="640.71" r="3.1"/>
<circle cx="544.36" cy="641.24" r="3.1"/>
<circle cx="545.44" cy="641.42" r="3.1"/>
<circle cx="546.51" cy="641.73" r="3.1"/>
<circle cx="547.59" cy="642.36" r="3.1"/>
<circle cx="548.66" cy="642.18" r="3.1"/>
<circle cx="549.74" cy="641.83" r="3.1"/>
<circle cx="550.81" cy="640.33" r="3.1"/>
<circle cx="551.89" cy="637.74" r="3.1"/>
<circle cx="552.96" cy="637.12" r="3.1"/>
<circle cx="554.04" cy="633.85" r="3.1"/>
<circle cx="555.12" cy="630.99" r="3.1"/>
<circle cx="556.19" cy="628.9" r="3.1"/>
<circle cx="557.27" cy="626.95" r="3.1"/>
<circle cx="558.34" cy="624.17" r="3.1"/>
<circle cx="559.42" cy="620.16" r="3.1"/>
<circle cx="560.49" cy="617.39" r="3.1"/>
<circle cx="561.57" cy="615.61" r="3.1"/>
<circle cx="562.64" cy="613.5" r="3.1"/>
<circle cx="563.72" cy="607.05" r="3.1"/>
<circle cx="564.79" cy="602.54" r="3.1"/>
<circle cx="565.87" cy="600.56" r="3.1"/>
<circle cx="566.94" cy="595.18" r="3.1"/>
<circle cx="568.02" cy="589.88" r="3.1"/>
<circle cx="569.1" cy="585.84" r="3.1"/>
<circle cx="570.17" cy="583.06" r="3.1"/>
<circle cx="571.25" cy="578.83" r="3.1"/>
<circle cx="572.32" cy="573.58" r="3.1"/>
<circle cx="573.4" cy="570.8" r="3.1"/>
<circle cx="574.47" cy="566.08" r="3.1"/>
<circle cx="575.55" cy="561.43" r="3.1"/>
<circle cx="576.62" cy="554.77" r="3.1"/>
<circle cx="577.7" cy="551.96" r="3.1"/>
<circle cx="578.77" cy="547.73" r="3.1"/>
<circle cx="579.85" cy="544.89" r="3.1"/>
<circle cx="580.92" cy="541.35" r="3.1"/>
</g>
<circle cx="582.1" cy="538.25" r="5.1" fill="#5b92cc"/>
<text transform="translate(43,666.8) rotate(-59)" text-anchor="end" font-size="9.3" fill="#858585" dy="3.3">1/3/2020</text>
<text transform="translate(76.24,666.8) rotate(-59)" text-anchor="end" font-size="9.3" fill="#858585" dy="3.3">1/4/2020</text>
<text transform="translate(108.4,666.8) rotate(-59)" text-anchor="end" font-size="9.3" fill="#858585" dy="3.3">1/5/2020</text>
<text transform="translate(141.64,666.8) rotate(-59)" text-anchor="end" font-size="9.3" fill="#858585" dy="3.3">1/6/2020</text>
<text transform="translate(173.81,666.8) rotate(-59)" text-anchor="end" font-size="9.3" fill="#858585" dy="3.3">1/7/2020</text>
<text transform="translate(207.05,666.8) rotate(-59)" text-anchor="end" font-size="9.3" fill="#858585" dy="3.3">1/8/2020</text>
<text transform="translate(240.28,666.8) rotate(-59)" text-anchor="end" font-size="9.3" fill="#858585" dy="3.3">1/9/2020</text>
<text transform="translate(272.45,666.8) rotate(-59)" text-anchor="end" font-size="9.3" fill="#858585" dy="3.3">1/10/2020</text>
<text transform="translate(305.69,666.8) rotate(-59)" text-anchor="end" font-size="9.3" fill="#858585" dy="3.3">1/11/2020</text>
<text transform="translate(337.86,666.8) rotate(-59)" text-anchor="end" font-size="9.3" fill="#858585" dy="3.3">1/12/2020</text>
<text transform="translate(371.09,666.8) rotate(-59)" text-anchor="end" font-size="9.3" fill="#858585" dy="3.3">1/1/2021</text>
<text transform="translate(404.33,666.8) rotate(-59)" text-anchor="end" font-size="9.3" fill="#858585" dy="3.3">1/2/2021</text>
<text transform="translate(434.35,666.8) rotate(-59)" text-anchor="end" font-size="9.3" fill="#858585" dy="3.3">1/3/2021</text>
<text transform="translate(467.59,666.8) rotate(-59)" text-anchor="end" font-size="9.3" fill="#858585" dy="3.3">1/4/2021</text>
<text transform="translate(499.76,666.8) rotate(-59)" text-anchor="end" font-size="9.3" fill="#858585" dy="3.3">1/5/2021</text>
<text transform="translate(533,666.8) rotate(-59)" text-anchor="end" font-size="9.3" fill="#858585" dy="3.3">1/6/2021</text>
<text transform="translate(565.16,666.8) rotate(-59)" text-anchor="end" font-size="9.3" fill="#858585" dy="3.3">1/7/2021</text>
<rect x="541.3" y="546.2" width="60.4" height="46.4" rx="5.5" fill="#fff" fill-opacity="0.9" stroke="#e6e6e6" stroke-width="1"/>
<text x="571.2" y="564.7" text-anchor="middle" font-size="9.5" font-weight="bold" fill="#585858">17/7/2021</text>
<text x="571.3" y="581.6" text-anchor="middle" font-size="9.5" fill="#76a0d6">IA 14d: 593</text>
</svg>
</body></html>
